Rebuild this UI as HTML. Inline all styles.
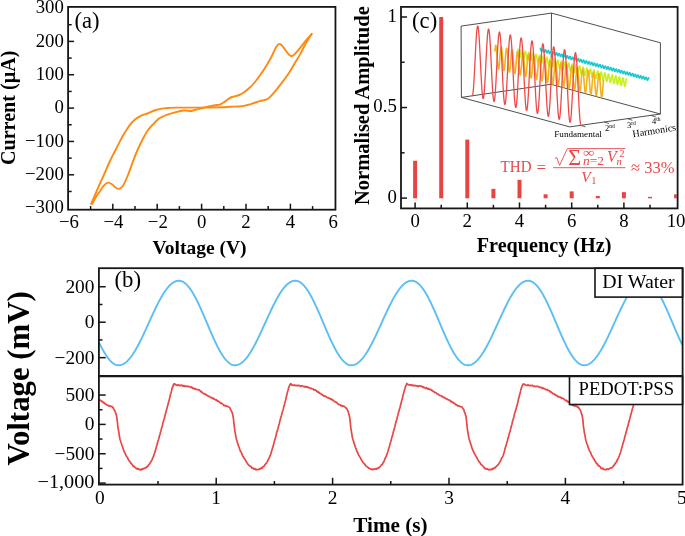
<!DOCTYPE html>
<html><head><meta charset="utf-8"><style>
html,body{margin:0;padding:0;background:#fff;}
body{width:685px;height:536px;overflow:hidden;}
svg{display:block;font-family:"Liberation Serif", serif;will-change:transform;}
</style></head><body>
<svg width="685" height="536" viewBox="0 0 685 536">
<g>
<path d="M92.30,203.80 C92.92,202.67 94.78,199.02 96.00,197.00 C97.22,194.98 98.27,193.65 99.60,191.70 C100.93,189.75 102.60,186.82 104.00,185.30 C105.40,183.78 106.67,182.77 108.00,182.60 C109.33,182.43 110.75,183.48 112.00,184.30 C113.25,185.12 114.42,186.73 115.50,187.50 C116.58,188.27 117.58,188.85 118.50,188.90 C119.42,188.95 120.12,188.55 121.00,187.80 C121.88,187.05 122.63,186.53 123.80,184.40 C124.97,182.27 126.38,179.05 128.00,175.00 C129.62,170.95 131.83,164.43 133.50,160.10 C135.17,155.77 136.38,152.63 138.00,149.00 C139.62,145.37 141.53,141.47 143.20,138.30 C144.87,135.13 146.35,132.32 148.00,130.00 C149.65,127.68 151.27,126.30 153.10,124.40 C154.93,122.50 157.18,120.00 159.00,118.60 C160.82,117.20 162.30,116.73 164.00,116.00 C165.70,115.27 167.20,114.83 169.20,114.20 C171.20,113.57 173.57,112.82 176.00,112.20 C178.43,111.58 181.88,110.75 183.80,110.50 C185.72,110.25 186.28,110.62 187.50,110.70 C188.72,110.78 189.68,111.18 191.10,111.00 C192.52,110.82 194.30,110.03 196.00,109.60 C197.70,109.17 199.63,108.80 201.30,108.40 C202.97,108.00 204.53,107.57 206.00,107.20 C207.47,106.83 208.60,106.52 210.10,106.20 C211.60,105.88 213.42,105.55 215.00,105.30 C216.58,105.05 218.43,105.00 219.60,104.70 C220.77,104.40 221.15,103.98 222.00,103.50 C222.85,103.02 223.70,102.52 224.70,101.80 C225.70,101.08 226.78,100.00 228.00,99.20 C229.22,98.40 230.12,97.70 232.00,97.00 C233.88,96.30 237.30,95.78 239.30,95.00 C241.30,94.22 242.28,93.50 244.00,92.30 C245.72,91.10 247.77,89.52 249.60,87.80 C251.43,86.08 253.30,84.05 255.00,82.00 C256.70,79.95 258.30,77.58 259.80,75.50 C261.30,73.42 262.63,71.57 264.00,69.50 C265.37,67.43 266.75,65.22 268.00,63.10 C269.25,60.98 270.47,58.85 271.50,56.80 C272.53,54.75 273.37,52.52 274.20,50.80 C275.03,49.08 275.75,47.63 276.50,46.50 C277.25,45.37 277.95,44.32 278.70,44.00 C279.45,43.68 280.03,43.80 281.00,44.60 C281.97,45.40 283.33,47.32 284.50,48.80 C285.67,50.28 286.98,52.32 288.00,53.50 C289.02,54.68 289.77,55.57 290.60,55.90 C291.43,56.23 291.97,56.18 293.00,55.50 C294.03,54.82 295.47,53.25 296.80,51.80 C298.13,50.35 299.63,48.50 301.00,46.80 C302.37,45.10 303.75,43.15 305.00,41.60 C306.25,40.05 307.40,38.77 308.50,37.50 C309.60,36.23 311.08,34.58 311.60,34.00" fill="none" stroke="#FF8A0F" stroke-width="1.9" stroke-linejoin="round" stroke-linecap="round" />
<path d="M311.60,34.00 C310.67,35.50 307.78,39.85 306.00,43.00 C304.22,46.15 302.73,49.60 300.90,52.90 C299.07,56.20 297.05,59.38 295.00,62.80 C292.95,66.22 290.77,70.10 288.60,73.40 C286.43,76.70 284.05,79.87 282.00,82.60 C279.95,85.33 277.97,87.77 276.30,89.80 C274.63,91.83 273.38,93.32 272.00,94.80 C270.62,96.28 269.33,97.80 268.00,98.70 C266.67,99.60 265.37,99.80 264.00,100.20 C262.63,100.60 261.87,100.50 259.80,101.10 C257.73,101.70 253.90,103.10 251.60,103.80 C249.30,104.50 247.72,104.88 246.00,105.30 C244.28,105.72 243.97,106.05 241.30,106.30 C238.63,106.55 233.50,106.65 230.00,106.80 C226.50,106.95 225.57,107.07 220.30,107.20 C215.03,107.33 205.70,107.53 198.40,107.60 C191.10,107.67 181.57,107.53 176.50,107.60 C171.43,107.67 170.43,107.83 168.00,108.00 C165.57,108.17 164.13,108.18 161.90,108.60 C159.67,109.02 157.03,109.68 154.60,110.50 C152.17,111.32 149.23,112.75 147.30,113.50 C145.37,114.25 144.22,114.53 143.00,115.00 C141.78,115.47 141.17,115.67 140.00,116.30 C138.83,116.93 137.42,117.68 136.00,118.80 C134.58,119.92 132.92,121.38 131.50,123.00 C130.08,124.62 128.92,126.42 127.50,128.50 C126.08,130.58 124.42,133.07 123.00,135.50 C121.58,137.93 120.50,140.18 119.00,143.10 C117.50,146.02 115.62,149.77 114.00,153.00 C112.38,156.23 110.88,159.08 109.30,162.50 C107.72,165.92 106.12,169.85 104.50,173.50 C102.88,177.15 101.18,180.82 99.60,184.40 C98.02,187.98 96.42,191.77 95.00,195.00 C93.58,198.23 91.75,202.33 91.10,203.80" fill="none" stroke="#FF8A0F" stroke-width="1.9" stroke-linejoin="round" stroke-linecap="round" />
</g>
<rect x="68.1" y="6.9" width="267.35" height="202.80" fill="none" stroke="#161616" stroke-width="1.8"/>
<text x="69.00" y="228.30" font-size="18.8" text-anchor="middle" font-weight="normal" font-style="normal" fill="#000" >−6</text>
<line x1="90.60" y1="209.70" x2="90.60" y2="206.10" stroke="#161616" stroke-width="1.5" />
<line x1="112.80" y1="209.70" x2="112.80" y2="203.70" stroke="#161616" stroke-width="1.5" />
<text x="113.40" y="228.30" font-size="18.8" text-anchor="middle" font-weight="normal" font-style="normal" fill="#000" >−4</text>
<line x1="135.00" y1="209.70" x2="135.00" y2="206.10" stroke="#161616" stroke-width="1.5" />
<line x1="157.20" y1="209.70" x2="157.20" y2="203.70" stroke="#161616" stroke-width="1.5" />
<text x="157.80" y="228.30" font-size="18.8" text-anchor="middle" font-weight="normal" font-style="normal" fill="#000" >−2</text>
<line x1="179.40" y1="209.70" x2="179.40" y2="206.10" stroke="#161616" stroke-width="1.5" />
<line x1="201.60" y1="209.70" x2="201.60" y2="203.70" stroke="#161616" stroke-width="1.5" />
<text x="201.60" y="228.30" font-size="18.8" text-anchor="middle" font-weight="normal" font-style="normal" fill="#000" >0</text>
<line x1="223.80" y1="209.70" x2="223.80" y2="206.10" stroke="#161616" stroke-width="1.5" />
<line x1="246.00" y1="209.70" x2="246.00" y2="203.70" stroke="#161616" stroke-width="1.5" />
<text x="246.00" y="228.30" font-size="18.8" text-anchor="middle" font-weight="normal" font-style="normal" fill="#000" >2</text>
<line x1="268.20" y1="209.70" x2="268.20" y2="206.10" stroke="#161616" stroke-width="1.5" />
<line x1="290.40" y1="209.70" x2="290.40" y2="203.70" stroke="#161616" stroke-width="1.5" />
<text x="290.40" y="228.30" font-size="18.8" text-anchor="middle" font-weight="normal" font-style="normal" fill="#000" >4</text>
<line x1="312.60" y1="209.70" x2="312.60" y2="206.10" stroke="#161616" stroke-width="1.5" />
<text x="333.30" y="228.30" font-size="18.8" text-anchor="middle" font-weight="normal" font-style="normal" fill="#000" >6</text>
<text x="63.80" y="213.35" font-size="18.8" text-anchor="end" font-weight="normal" font-style="normal" fill="#000" >−300</text>
<line x1="68.10" y1="191.47" x2="71.70" y2="191.47" stroke="#161616" stroke-width="1.5" />
<line x1="68.10" y1="174.80" x2="74.10" y2="174.80" stroke="#161616" stroke-width="1.5" />
<text x="63.80" y="180.00" font-size="18.8" text-anchor="end" font-weight="normal" font-style="normal" fill="#000" >−200</text>
<line x1="68.10" y1="158.12" x2="71.70" y2="158.12" stroke="#161616" stroke-width="1.5" />
<line x1="68.10" y1="141.45" x2="74.10" y2="141.45" stroke="#161616" stroke-width="1.5" />
<text x="63.80" y="146.65" font-size="18.8" text-anchor="end" font-weight="normal" font-style="normal" fill="#000" >−100</text>
<line x1="68.10" y1="124.77" x2="71.70" y2="124.77" stroke="#161616" stroke-width="1.5" />
<line x1="68.10" y1="108.10" x2="74.10" y2="108.10" stroke="#161616" stroke-width="1.5" />
<text x="63.80" y="113.30" font-size="18.8" text-anchor="end" font-weight="normal" font-style="normal" fill="#000" >0</text>
<line x1="68.10" y1="91.42" x2="71.70" y2="91.42" stroke="#161616" stroke-width="1.5" />
<line x1="68.10" y1="74.75" x2="74.10" y2="74.75" stroke="#161616" stroke-width="1.5" />
<text x="63.80" y="79.95" font-size="18.8" text-anchor="end" font-weight="normal" font-style="normal" fill="#000" >100</text>
<line x1="68.10" y1="58.07" x2="71.70" y2="58.07" stroke="#161616" stroke-width="1.5" />
<line x1="68.10" y1="41.40" x2="74.10" y2="41.40" stroke="#161616" stroke-width="1.5" />
<text x="63.80" y="46.60" font-size="18.8" text-anchor="end" font-weight="normal" font-style="normal" fill="#000" >200</text>
<line x1="68.10" y1="24.72" x2="71.70" y2="24.72" stroke="#161616" stroke-width="1.5" />
<text x="63.80" y="13.25" font-size="18.8" text-anchor="end" font-weight="normal" font-style="normal" fill="#000" >300</text>
<text x="74.40" y="27.90" font-size="22.6" text-anchor="start" font-weight="normal" font-style="normal" fill="#000" >(a)</text>
<text x="199.50" y="254.40" font-size="19.5" text-anchor="middle" font-weight="bold" font-style="normal" fill="#000" >Voltage (V)</text>
<text transform="translate(14.7,107.8) rotate(-90)" x="0" y="0" font-size="20.1" text-anchor="middle" font-weight="bold" fill="#000">Current (µA)</text>
<clipPath id="cc"><rect x="401.0" y="6.9" width="275.70000000000005" height="201.5"/></clipPath>
<g clip-path="url(#cc)">
<rect x="413.10" y="160.79" width="4" height="37.51" fill="#E94444"/>
<rect x="439.20" y="17.00" width="4" height="181.30" fill="#E94444"/>
<rect x="465.30" y="139.60" width="4" height="58.70" fill="#E94444"/>
<rect x="491.40" y="188.86" width="4" height="9.44" fill="#E94444"/>
<rect x="517.50" y="179.81" width="4" height="18.49" fill="#E94444"/>
<rect x="543.60" y="194.30" width="4" height="4.00" fill="#E94444"/>
<rect x="569.70" y="191.40" width="4" height="6.90" fill="#E94444"/>
<rect x="595.80" y="195.93" width="4" height="2.37" fill="#E94444"/>
<rect x="621.90" y="192.12" width="4" height="6.18" fill="#E94444"/>
<rect x="648.00" y="196.83" width="4" height="1.47" fill="#E94444"/>
<rect x="674.10" y="194.30" width="4" height="4.00" fill="#E94444"/>
</g>
<rect x="401.0" y="6.9" width="276.60" height="201.50" fill="none" stroke="#161616" stroke-width="1.8"/>
<line x1="415.10" y1="208.40" x2="415.10" y2="202.40" stroke="#161616" stroke-width="1.5" />
<text x="415.10" y="227.00" font-size="18.8" text-anchor="middle" font-weight="normal" font-style="normal" fill="#000" >0</text>
<line x1="441.20" y1="208.40" x2="441.20" y2="204.80" stroke="#161616" stroke-width="1.5" />
<line x1="467.30" y1="208.40" x2="467.30" y2="202.40" stroke="#161616" stroke-width="1.5" />
<text x="467.30" y="227.00" font-size="18.8" text-anchor="middle" font-weight="normal" font-style="normal" fill="#000" >2</text>
<line x1="493.40" y1="208.40" x2="493.40" y2="204.80" stroke="#161616" stroke-width="1.5" />
<line x1="519.50" y1="208.40" x2="519.50" y2="202.40" stroke="#161616" stroke-width="1.5" />
<text x="519.50" y="227.00" font-size="18.8" text-anchor="middle" font-weight="normal" font-style="normal" fill="#000" >4</text>
<line x1="545.60" y1="208.40" x2="545.60" y2="204.80" stroke="#161616" stroke-width="1.5" />
<line x1="571.70" y1="208.40" x2="571.70" y2="202.40" stroke="#161616" stroke-width="1.5" />
<text x="571.70" y="227.00" font-size="18.8" text-anchor="middle" font-weight="normal" font-style="normal" fill="#000" >6</text>
<line x1="597.80" y1="208.40" x2="597.80" y2="204.80" stroke="#161616" stroke-width="1.5" />
<line x1="623.90" y1="208.40" x2="623.90" y2="202.40" stroke="#161616" stroke-width="1.5" />
<text x="623.90" y="227.00" font-size="18.8" text-anchor="middle" font-weight="normal" font-style="normal" fill="#000" >8</text>
<line x1="650.00" y1="208.40" x2="650.00" y2="204.80" stroke="#161616" stroke-width="1.5" />
<text x="676.10" y="227.00" font-size="18.8" text-anchor="middle" font-weight="normal" font-style="normal" fill="#000" >10</text>
<line x1="401.00" y1="198.10" x2="407.00" y2="198.10" stroke="#161616" stroke-width="1.5" />
<text x="396.80" y="202.70" font-size="18.8" text-anchor="end" font-weight="normal" font-style="normal" fill="#000" >0</text>
<line x1="401.00" y1="152.82" x2="404.60" y2="152.82" stroke="#161616" stroke-width="1.5" />
<line x1="401.00" y1="107.55" x2="407.00" y2="107.55" stroke="#161616" stroke-width="1.5" />
<text x="396.80" y="112.15" font-size="18.8" text-anchor="end" font-weight="normal" font-style="normal" fill="#000" >0.5</text>
<line x1="401.00" y1="62.28" x2="404.60" y2="62.28" stroke="#161616" stroke-width="1.5" />
<line x1="401.00" y1="17.00" x2="407.00" y2="17.00" stroke="#161616" stroke-width="1.5" />
<text x="396.80" y="21.60" font-size="18.8" text-anchor="end" font-weight="normal" font-style="normal" fill="#000" >1</text>
<text x="412.10" y="28.30" font-size="22.6" text-anchor="start" font-weight="normal" font-style="normal" fill="#000" >(c)</text>
<text x="544.10" y="252.30" font-size="20.2" text-anchor="middle" font-weight="bold" font-style="normal" fill="#000" >Frequency (Hz)</text>
<text transform="translate(369.3,105.6) rotate(-90)" x="0" y="0" font-size="20.5" text-anchor="middle" font-weight="bold" fill="#000">Normalised Amplitude</text>
<line x1="461.10" y1="26.10" x2="551.50" y2="13.10" stroke="#3a3a3a" stroke-width="0.9" />
<line x1="551.50" y1="13.10" x2="660.40" y2="42.80" stroke="#3a3a3a" stroke-width="0.9" />
<line x1="461.10" y1="26.10" x2="461.40" y2="97.40" stroke="#3a3a3a" stroke-width="0.9" />
<line x1="551.50" y1="13.10" x2="551.00" y2="84.30" stroke="#3a3a3a" stroke-width="0.9" />
<line x1="660.40" y1="42.80" x2="660.40" y2="114.00" stroke="#3a3a3a" stroke-width="0.9" />
<line x1="461.40" y1="97.40" x2="551.00" y2="84.30" stroke="#3a3a3a" stroke-width="0.9" />
<line x1="551.00" y1="84.30" x2="660.40" y2="114.00" stroke="#3a3a3a" stroke-width="0.9" />
<line x1="461.40" y1="97.40" x2="569.70" y2="126.90" stroke="#3a3a3a" stroke-width="0.9" />
<line x1="569.70" y1="126.90" x2="660.40" y2="114.00" stroke="#3a3a3a" stroke-width="0.9" />
<line x1="580.80" y1="125.32" x2="585.60" y2="126.92" stroke="#3a3a3a" stroke-width="0.8" />
<line x1="604.20" y1="121.99" x2="609.00" y2="123.59" stroke="#3a3a3a" stroke-width="0.8" />
<line x1="627.60" y1="118.67" x2="632.40" y2="120.27" stroke="#3a3a3a" stroke-width="0.8" />
<line x1="651.00" y1="115.34" x2="655.80" y2="116.94" stroke="#3a3a3a" stroke-width="0.8" />
<path d="M540.20,48.31 L540.32,48.39 L540.44,48.58 L540.56,48.85 L540.68,49.19 L540.80,49.59 L540.92,49.99 L541.04,50.39 L541.17,50.75 L541.29,51.04 L541.41,51.25 L541.53,51.36 L541.65,51.37 L541.77,51.27 L541.89,51.09 L542.01,50.82 L542.13,50.51 L542.25,50.17 L542.37,49.83 L542.49,49.52 L542.61,49.28 L542.73,49.11 L542.85,49.04 L542.98,49.07 L543.10,49.21 L543.22,49.44 L543.34,49.75 L543.46,50.13 L543.58,50.53 L543.70,50.94 L543.82,51.32 L543.94,51.65 L544.06,51.90 L544.18,52.06 L544.30,52.12 L544.42,52.07 L544.54,51.93 L544.66,51.70 L544.79,51.41 L544.91,51.08 L545.03,50.74 L545.15,50.41 L545.27,50.13 L545.39,49.92 L545.51,49.80 L545.63,49.78 L545.75,49.87 L545.87,50.06 L545.99,50.33 L546.11,50.67 L546.23,51.06 L546.35,51.47 L546.47,51.87 L546.60,52.23 L546.72,52.52 L546.84,52.73 L546.96,52.84 L547.08,52.85 L547.20,52.75 L547.32,52.57 L547.44,52.30 L547.56,51.99 L547.68,51.65 L547.80,51.31 L547.92,51.00 L548.04,50.76 L548.16,50.59 L548.28,50.52 L548.41,50.55 L548.53,50.69 L548.65,50.92 L548.77,51.23 L548.89,51.60 L549.01,52.01 L549.13,52.41 L549.25,52.80 L549.37,53.12 L549.49,53.38 L549.61,53.54 L549.73,53.60 L549.85,53.55 L549.97,53.41 L550.09,53.18 L550.22,52.89 L550.34,52.56 L550.46,52.21 L550.58,51.89 L550.70,51.61 L550.82,51.40 L550.94,51.28 L551.06,51.26 L551.18,51.35 L551.30,51.53 L551.42,51.81 L551.54,52.15 L551.66,52.54 L551.78,52.95 L551.90,53.35 L552.03,53.71 L552.15,54.00 L552.27,54.21 L552.39,54.32 L552.51,54.33 L552.63,54.23 L552.75,54.04 L552.87,53.78 L552.99,53.47 L553.11,53.13 L553.23,52.79 L553.35,52.48 L553.47,52.24 L553.59,52.07 L553.71,52.00 L553.84,52.03 L553.96,52.17 L554.08,52.40 L554.20,52.71 L554.32,53.08 L554.44,53.49 L554.56,53.89 L554.68,54.27 L554.80,54.60 L554.92,54.86 L555.04,55.02 L555.16,55.08 L555.28,55.03 L555.40,54.89 L555.52,54.66 L555.65,54.37 L555.77,54.04 L555.89,53.69 L556.01,53.37 L556.13,53.09 L556.25,52.88 L556.37,52.76 L556.49,52.74 L556.61,52.83 L556.73,53.01 L556.85,53.29 L556.97,53.63 L557.09,54.02 L557.21,54.43 L557.33,54.83 L557.46,55.19 L557.58,55.48 L557.70,55.69 L557.82,55.80 L557.94,55.81 L558.06,55.71 L558.18,55.52 L558.30,55.26 L558.42,54.95 L558.54,54.60 L558.66,54.27 L558.78,53.96 L558.90,53.72 L559.02,53.55 L559.14,53.48 L559.27,53.51 L559.39,53.65 L559.51,53.88 L559.63,54.19 L559.75,54.56 L559.87,54.97 L559.99,55.37 L560.11,55.75 L560.23,56.08 L560.35,56.34 L560.47,56.50 L560.59,56.56 L560.71,56.51 L560.83,56.37 L560.95,56.14 L561.08,55.85 L561.20,55.52 L561.32,55.17 L561.44,54.85 L561.56,54.57 L561.68,54.36 L561.80,54.24 L561.92,54.22 L562.04,54.31 L562.16,54.49 L562.28,54.77 L562.40,55.11 L562.52,55.50 L562.64,55.91 L562.76,56.31 L562.89,56.67 L563.01,56.96 L563.13,57.17 L563.25,57.28 L563.37,57.29 L563.49,57.19 L563.61,57.00 L563.73,56.74 L563.85,56.42 L563.97,56.08 L564.09,55.75 L564.21,55.44 L564.33,55.19 L564.45,55.03 L564.57,54.96 L564.70,54.99 L564.82,55.13 L564.94,55.36 L565.06,55.67 L565.18,56.04 L565.30,56.44 L565.42,56.85 L565.54,57.23 L565.66,57.56 L565.78,57.82 L565.90,57.98 L566.02,58.04 L566.14,57.99 L566.26,57.85 L566.38,57.62 L566.51,57.33 L566.63,56.99 L566.75,56.65 L566.87,56.33 L566.99,56.05 L567.11,55.84 L567.23,55.72 L567.35,55.70 L567.47,55.79 L567.59,55.97 L567.71,56.25 L567.83,56.59 L567.95,56.98 L568.07,57.39 L568.19,57.79 L568.32,58.14 L568.44,58.44 L568.56,58.65 L568.68,58.76 L568.80,58.77 L568.92,58.67 L569.04,58.48 L569.16,58.22 L569.28,57.90 L569.40,57.56 L569.52,57.23 L569.64,56.92 L569.76,56.67 L569.88,56.51 L570.00,56.44 L570.13,56.47 L570.25,56.61 L570.37,56.84 L570.49,57.15 L570.61,57.52 L570.73,57.92 L570.85,58.33 L570.97,58.71 L571.09,59.04 L571.21,59.29 L571.33,59.46 L571.45,59.52 L571.57,59.47 L571.69,59.33 L571.81,59.10 L571.94,58.81 L572.06,58.47 L572.18,58.13 L572.30,57.81 L572.42,57.53 L572.54,57.32 L572.66,57.20 L572.78,57.18 L572.90,57.27 L573.02,57.45 L573.14,57.73 L573.26,58.07 L573.38,58.46 L573.50,58.87 L573.62,59.27 L573.75,59.62 L573.87,59.92 L573.99,60.13 L574.11,60.24 L574.23,60.24 L574.35,60.15 L574.47,59.96 L574.59,59.70 L574.71,59.38 L574.83,59.04 L574.95,58.70 L575.07,58.40 L575.19,58.15 L575.31,57.99 L575.43,57.92 L575.56,57.95 L575.68,58.09 L575.80,58.32 L575.92,58.63 L576.04,59.00 L576.16,59.40 L576.28,59.81 L576.40,60.19 L576.52,60.52 L576.64,60.77 L576.76,60.94 L576.88,60.99 L577.00,60.95 L577.12,60.81 L577.24,60.58 L577.37,60.28 L577.49,59.95 L577.61,59.61 L577.73,59.29 L577.85,59.01 L577.97,58.80 L578.09,58.68 L578.21,58.66 L578.33,58.74 L578.45,58.93 L578.57,59.20 L578.69,59.55 L578.81,59.94 L578.93,60.35 L579.05,60.74 L579.18,61.10 L579.30,61.40 L579.42,61.61 L579.54,61.72 L579.66,61.72 L579.78,61.63 L579.90,61.44 L580.02,61.18 L580.14,60.86 L580.26,60.52 L580.38,60.18 L580.50,59.88 L580.62,59.63 L580.74,59.47 L580.86,59.40 L580.99,59.43 L581.11,59.56 L581.23,59.80 L581.35,60.11 L581.47,60.48 L581.59,60.88 L581.71,61.29 L581.83,61.67 L581.95,62.00 L582.07,62.25 L582.19,62.41 L582.31,62.47 L582.43,62.43 L582.55,62.28 L582.67,62.06 L582.80,61.76 L582.92,61.43 L583.04,61.09 L583.16,60.76 L583.28,60.49 L583.40,60.28 L583.52,60.16 L583.64,60.14 L583.76,60.22 L583.88,60.41 L584.00,60.68 L584.12,61.03 L584.24,61.42 L584.36,61.83 L584.48,62.22 L584.61,62.58 L584.73,62.88 L584.85,63.09 L584.97,63.20 L585.09,63.20 L585.21,63.11 L585.33,62.92 L585.45,62.66 L585.57,62.34 L585.69,62.00 L585.81,61.66 L585.93,61.36 L586.05,61.11 L586.17,60.95 L586.29,60.87 L586.42,60.91 L586.54,61.04 L586.66,61.28 L586.78,61.59 L586.90,61.96 L587.02,62.36 L587.14,62.77 L587.26,63.15 L587.38,63.48 L587.50,63.73 L587.62,63.89 L587.74,63.95 L587.86,63.91 L587.98,63.76 L588.10,63.54 L588.23,63.24 L588.35,62.91 L588.47,62.57 L588.59,62.24 L588.71,61.97 L588.83,61.76 L588.95,61.64 L589.07,61.62 L589.19,61.70 L589.31,61.89 L589.43,62.16 L589.55,62.51 L589.67,62.90 L589.79,63.31 L589.91,63.70 L590.04,64.06 L590.16,64.36 L590.28,64.56 L590.40,64.68 L590.52,64.68 L590.64,64.59 L590.76,64.40 L590.88,64.14 L591.00,63.82 L591.12,63.48 L591.24,63.14 L591.36,62.84 L591.48,62.59 L591.60,62.42 L591.72,62.35 L591.85,62.39 L591.97,62.52 L592.09,62.75 L592.21,63.07 L592.33,63.44 L592.45,63.84 L592.57,64.25 L592.69,64.63 L592.81,64.96 L592.93,65.21 L593.05,65.37 L593.17,65.43 L593.29,65.39 L593.41,65.24 L593.53,65.01 L593.66,64.72 L593.78,64.39 L593.90,64.05 L594.02,63.72 L594.14,63.44 L594.26,63.24 L594.38,63.12 L594.50,63.10 L594.62,63.18 L594.74,63.37 L594.86,63.64 L594.98,63.99 L595.10,64.38 L595.22,64.78 L595.34,65.18 L595.47,65.54 L595.59,65.83 L595.71,66.04 L595.83,66.15 L595.95,66.16 L596.07,66.07 L596.19,65.88 L596.31,65.61 L596.43,65.30 L596.55,64.96 L596.67,64.62 L596.79,64.32 L596.91,64.07 L597.03,63.90 L597.15,63.83 L597.28,63.87 L597.40,64.00 L597.52,64.23 L597.64,64.55 L597.76,64.92 L597.88,65.32 L598.00,65.73 L598.12,66.11 L598.24,66.44 L598.36,66.69 L598.48,66.85 L598.60,66.91 L598.72,66.87 L598.84,66.72 L598.96,66.49 L599.09,66.20 L599.21,65.87 L599.33,65.53 L599.45,65.20 L599.57,64.92 L599.69,64.72 L599.81,64.60 L599.93,64.58 L600.05,64.66 L600.17,64.85 L600.29,65.12 L600.41,65.47 L600.53,65.86 L600.65,66.26 L600.77,66.66 L600.90,67.02 L601.02,67.31 L601.14,67.52 L601.26,67.63 L601.38,67.64 L601.50,67.54 L601.62,67.36 L601.74,67.09 L601.86,66.78 L601.98,66.44 L602.10,66.10 L602.22,65.80 L602.34,65.55 L602.46,65.38 L602.58,65.31 L602.71,65.34 L602.83,65.48 L602.95,65.71 L603.07,66.03 L603.19,66.40 L603.31,66.80 L603.43,67.21 L603.55,67.59 L603.67,67.92 L603.79,68.17 L603.91,68.33 L604.03,68.39 L604.15,68.34 L604.27,68.20 L604.39,67.97 L604.52,67.68 L604.64,67.35 L604.76,67.01 L604.88,66.68 L605.00,66.40 L605.12,66.19 L605.24,66.07 L605.36,66.05 L605.48,66.14 L605.60,66.33 L605.72,66.60 L605.84,66.94 L605.96,67.33 L606.08,67.74 L606.20,68.14 L606.33,68.50 L606.45,68.79 L606.57,69.00 L606.69,69.11 L606.81,69.12 L606.93,69.02 L607.05,68.84 L607.17,68.57 L607.29,68.26 L607.41,67.92 L607.53,67.58 L607.65,67.27 L607.77,67.03 L607.89,66.86 L608.01,66.79 L608.14,66.82 L608.26,66.96 L608.38,67.19 L608.50,67.50 L608.62,67.88 L608.74,68.28 L608.86,68.68 L608.98,69.07 L609.10,69.39 L609.22,69.65 L609.34,69.81 L609.46,69.87 L609.58,69.82 L609.70,69.68 L609.82,69.45 L609.95,69.16 L610.07,68.83 L610.19,68.49 L610.31,68.16 L610.43,67.88 L610.55,67.67 L610.67,67.55 L610.79,67.53 L610.91,67.62 L611.03,67.80 L611.15,68.08 L611.27,68.42 L611.39,68.81 L611.51,69.22 L611.63,69.62 L611.76,69.98 L611.88,70.27 L612.00,70.48 L612.12,70.59 L612.24,70.60 L612.36,70.50 L612.48,70.32 L612.60,70.05 L612.72,69.74 L612.84,69.40 L612.96,69.06 L613.08,68.75 L613.20,68.51 L613.32,68.34 L613.44,68.27 L613.57,68.30 L613.69,68.44 L613.81,68.67 L613.93,68.98 L614.05,69.35 L614.17,69.76 L614.29,70.16 L614.41,70.55 L614.53,70.87 L614.65,71.13 L614.77,71.29 L614.89,71.35 L615.01,71.30 L615.13,71.16 L615.25,70.93 L615.38,70.64 L615.50,70.31 L615.62,69.96 L615.74,69.64 L615.86,69.36 L615.98,69.15 L616.10,69.03 L616.22,69.01 L616.34,69.10 L616.46,69.28 L616.58,69.56 L616.70,69.90 L616.82,70.29 L616.94,70.70 L617.06,71.10 L617.19,71.46 L617.31,71.75 L617.43,71.96 L617.55,72.07 L617.67,72.08 L617.79,71.98 L617.91,71.79 L618.03,71.53 L618.15,71.22 L618.27,70.87 L618.39,70.54 L618.51,70.23 L618.63,69.99 L618.75,69.82 L618.87,69.75 L619.00,69.78 L619.12,69.92 L619.24,70.15 L619.36,70.46 L619.48,70.83 L619.60,71.24 L619.72,71.64 L619.84,72.02 L619.96,72.35 L620.08,72.61 L620.20,72.77 L620.32,72.83 L620.44,72.78 L620.56,72.64 L620.68,72.41 L620.81,72.12 L620.93,71.79 L621.05,71.44 L621.17,71.12 L621.29,70.84 L621.41,70.63 L621.53,70.51 L621.65,70.49 L621.77,70.58 L621.89,70.76 L622.01,71.04 L622.13,71.38 L622.25,71.77 L622.37,72.18 L622.49,72.58 L622.62,72.94 L622.74,73.23 L622.86,73.44 L622.98,73.55 L623.10,73.56 L623.22,73.46 L623.34,73.27 L623.46,73.01 L623.58,72.69 L623.70,72.35 L623.82,72.02 L623.94,71.71 L624.06,71.47 L624.18,71.30 L624.30,71.23 L624.43,71.26 L624.55,71.40 L624.67,71.63 L624.79,71.94 L624.91,72.31 L625.03,72.72 L625.15,73.12 L625.27,73.50 L625.39,73.83 L625.51,74.09 L625.63,74.25 L625.75,74.31 L625.87,74.26 L625.99,74.12 L626.11,73.89 L626.24,73.60 L626.36,73.27 L626.48,72.92 L626.60,72.60 L626.72,72.32 L626.84,72.11 L626.96,71.99 L627.08,71.97 L627.20,72.06 L627.32,72.24 L627.44,72.52 L627.56,72.86 L627.68,73.25 L627.80,73.66 L627.92,74.06 L628.05,74.42 L628.17,74.71 L628.29,74.92 L628.41,75.03 L628.53,75.04 L628.65,74.94 L628.77,74.75 L628.89,74.49 L629.01,74.17 L629.13,73.83 L629.25,73.50 L629.37,73.19 L629.49,72.94 L629.61,72.78 L629.73,72.71 L629.86,72.74 L629.98,72.88 L630.10,73.11 L630.22,73.42 L630.34,73.79 L630.46,74.19 L630.58,74.60 L630.70,74.98 L630.82,75.31 L630.94,75.57 L631.06,75.73 L631.18,75.79 L631.30,75.74 L631.42,75.60 L631.54,75.37 L631.67,75.08 L631.79,74.74 L631.91,74.40 L632.03,74.08 L632.15,73.80 L632.27,73.59 L632.39,73.47 L632.51,73.45 L632.63,73.54 L632.75,73.72 L632.87,74.00 L632.99,74.34 L633.11,74.73 L633.23,75.14 L633.35,75.54 L633.48,75.89 L633.60,76.19 L633.72,76.40 L633.84,76.51 L633.96,76.52 L634.08,76.42 L634.20,76.23 L634.32,75.97 L634.44,75.65 L634.56,75.31 L634.68,74.97 L634.80,74.67 L634.92,74.42 L635.04,74.26 L635.16,74.19 L635.29,74.22 L635.41,74.36 L635.53,74.59 L635.65,74.90 L635.77,75.27 L635.89,75.67 L636.01,76.08 L636.13,76.46 L636.25,76.79 L636.37,77.04 L636.49,77.21 L636.61,77.26 L636.73,77.22 L636.85,77.08 L636.97,76.85 L637.10,76.56 L637.22,76.22 L637.34,75.88 L637.46,75.56 L637.58,75.28 L637.70,75.07 L637.82,74.95 L637.94,74.93 L638.06,75.01 L638.18,75.20 L638.30,75.47 L638.42,75.82 L638.54,76.21 L638.66,76.62 L638.78,77.02 L638.91,77.37 L639.03,77.67 L639.15,77.88 L639.27,77.99 L639.39,77.99 L639.51,77.90 L639.63,77.71 L639.75,77.45 L639.87,77.13 L639.99,76.79 L640.11,76.45 L640.23,76.15 L640.35,75.90 L640.47,75.74 L640.59,75.67 L640.72,75.70 L640.84,75.84 L640.96,76.07 L641.08,76.38 L641.20,76.75 L641.32,77.15 L641.44,77.56 L641.56,77.94 L641.68,78.27 L641.80,78.52 L641.92,78.68 L642.04,78.74 L642.16,78.70 L642.28,78.56 L642.40,78.33 L642.53,78.03 L642.65,77.70 L642.77,77.36 L642.89,77.04 L643.01,76.76 L643.13,76.55 L643.25,76.43 L643.37,76.41 L643.49,76.49 L643.61,76.68 L643.73,76.95 L643.85,77.30 L643.97,77.69 L644.09,78.10 L644.21,78.49 L644.34,78.85 L644.46,79.15 L644.58,79.36 L644.70,79.47 L644.82,79.47 L644.94,79.38 L645.06,79.19 L645.18,78.93 L645.30,78.61 L645.42,78.27 L645.54,77.93 L645.66,77.63 L645.78,77.38 L645.90,77.22 L646.02,77.14 L646.15,77.18 L646.27,77.31 L646.39,77.55 L646.51,77.86 L646.63,78.23 L646.75,78.63 L646.87,79.04 L646.99,79.42 L647.11,79.75 L647.23,80.00 L647.35,80.16 L647.47,80.22 L647.59,80.18 L647.71,80.03 L647.83,79.81 L647.96,79.51 L648.08,79.18 L648.20,78.84 L648.32,78.51 L648.44,78.24 L648.56,78.03 L648.68,77.91 L648.80,77.89" fill="none" stroke="#1CC8D2" stroke-width="1.6" stroke-linejoin="round" stroke-linecap="round" />
<path d="M518.00,49.25 L518.12,49.38 L518.24,49.67 L518.36,50.12 L518.48,50.71 L518.60,51.42 L518.72,52.22 L518.84,53.07 L518.97,53.94 L519.09,54.79 L519.21,55.58 L519.33,56.29 L519.45,56.89 L519.57,57.34 L519.69,57.63 L519.81,57.75 L519.93,57.69 L520.05,57.47 L520.17,57.08 L520.29,56.56 L520.41,55.91 L520.53,55.18 L520.65,54.40 L520.78,53.59 L520.90,52.81 L521.02,52.08 L521.14,51.43 L521.26,50.91 L521.38,50.52 L521.50,50.30 L521.62,50.24 L521.74,50.36 L521.86,50.65 L521.98,51.10 L522.10,51.70 L522.22,52.41 L522.34,53.20 L522.46,54.05 L522.59,54.92 L522.71,55.77 L522.83,56.57 L522.95,57.28 L523.07,57.87 L523.19,58.32 L523.31,58.61 L523.43,58.73 L523.55,58.68 L523.67,58.45 L523.79,58.07 L523.91,57.54 L524.03,56.90 L524.15,56.17 L524.27,55.38 L524.40,54.58 L524.52,53.79 L524.64,53.06 L524.76,52.42 L524.88,51.89 L525.00,51.51 L525.12,51.28 L525.24,51.23 L525.36,51.35 L525.48,51.64 L525.60,52.09 L525.72,52.68 L525.84,53.39 L525.96,54.19 L526.08,55.04 L526.21,55.91 L526.33,56.76 L526.45,57.56 L526.57,58.27 L526.69,58.86 L526.81,59.31 L526.93,59.60 L527.05,59.72 L527.17,59.67 L527.29,59.44 L527.41,59.05 L527.53,58.53 L527.65,57.88 L527.77,57.15 L527.89,56.37 L528.02,55.56 L528.14,54.78 L528.26,54.05 L528.38,53.41 L528.50,52.88 L528.62,52.49 L528.74,52.27 L528.86,52.21 L528.98,52.33 L529.10,52.62 L529.22,53.08 L529.34,53.67 L529.46,54.38 L529.58,55.17 L529.70,56.03 L529.83,56.89 L529.95,57.74 L530.07,58.54 L530.19,59.25 L530.31,59.84 L530.43,60.29 L530.55,60.59 L530.67,60.71 L530.79,60.65 L530.91,60.43 L531.03,60.04 L531.15,59.51 L531.27,58.87 L531.39,58.14 L531.51,57.35 L531.64,56.55 L531.76,55.77 L531.88,55.03 L532.00,54.39 L532.12,53.86 L532.24,53.48 L532.36,53.25 L532.48,53.20 L532.60,53.32 L532.72,53.61 L532.84,54.06 L532.96,54.65 L533.08,55.36 L533.20,56.16 L533.32,57.01 L533.45,57.88 L533.57,58.73 L533.69,59.53 L533.81,60.24 L533.93,60.83 L534.05,61.28 L534.17,61.57 L534.29,61.69 L534.41,61.64 L534.53,61.41 L534.65,61.03 L534.77,60.50 L534.89,59.86 L535.01,59.13 L535.13,58.34 L535.26,57.54 L535.38,56.75 L535.50,56.02 L535.62,55.38 L535.74,54.85 L535.86,54.47 L535.98,54.24 L536.10,54.19 L536.22,54.31 L536.34,54.60 L536.46,55.05 L536.58,55.64 L536.70,56.35 L536.82,57.15 L536.94,58.00 L537.07,58.87 L537.19,59.72 L537.31,60.51 L537.43,61.22 L537.55,61.82 L537.67,62.27 L537.79,62.56 L537.91,62.68 L538.03,62.62 L538.15,62.40 L538.27,62.01 L538.39,61.49 L538.51,60.84 L538.63,60.11 L538.75,59.33 L538.88,58.52 L539.00,57.74 L539.12,57.01 L539.24,56.36 L539.36,55.84 L539.48,55.45 L539.60,55.23 L539.72,55.17 L539.84,55.29 L539.96,55.58 L540.08,56.03 L540.20,56.63 L540.32,57.34 L540.44,58.13 L540.56,58.98 L540.69,59.85 L540.81,60.70 L540.93,61.50 L541.05,62.21 L541.17,62.80 L541.29,63.25 L541.41,63.54 L541.53,63.66 L541.65,63.61 L541.77,63.38 L541.89,63.00 L542.01,62.47 L542.13,61.83 L542.25,61.10 L542.37,60.31 L542.50,59.51 L542.62,58.72 L542.74,57.99 L542.86,57.35 L542.98,56.82 L543.10,56.44 L543.22,56.21 L543.34,56.16 L543.46,56.28 L543.58,56.57 L543.70,57.02 L543.82,57.61 L543.94,58.32 L544.06,59.12 L544.18,59.97 L544.31,60.84 L544.43,61.69 L544.55,62.49 L544.67,63.20 L544.79,63.79 L544.91,64.24 L545.03,64.53 L545.15,64.65 L545.27,64.60 L545.39,64.37 L545.51,63.99 L545.63,63.46 L545.75,62.81 L545.87,62.08 L545.99,61.30 L546.12,60.50 L546.24,59.71 L546.36,58.98 L546.48,58.34 L546.60,57.81 L546.72,57.42 L546.84,57.20 L546.96,57.14 L547.08,57.26 L547.20,57.56 L547.32,58.01 L547.44,58.60 L547.56,59.31 L547.68,60.10 L547.80,60.96 L547.93,61.82 L548.05,62.68 L548.17,63.47 L548.29,64.18 L548.41,64.77 L548.53,65.23 L548.65,65.52 L548.77,65.64 L548.89,65.58 L549.01,65.36 L549.13,64.97 L549.25,64.44 L549.37,63.80 L549.49,63.07 L549.61,62.28 L549.74,61.48 L549.86,60.70 L549.98,59.97 L550.10,59.32 L550.22,58.79 L550.34,58.41 L550.46,58.18 L550.58,58.13 L550.70,58.25 L550.82,58.54 L550.94,58.99 L551.06,59.58 L551.18,60.29 L551.30,61.09 L551.42,61.94 L551.55,62.81 L551.67,63.66 L551.79,64.46 L551.91,65.17 L552.03,65.76 L552.15,66.21 L552.27,66.50 L552.39,66.62 L552.51,66.57 L552.63,66.34 L552.75,65.96 L552.87,65.43 L552.99,64.79 L553.11,64.06 L553.23,63.27 L553.36,62.47 L553.48,61.68 L553.60,60.95 L553.72,60.31 L553.84,59.78 L553.96,59.40 L554.08,59.17 L554.20,59.12 L554.32,59.24 L554.44,59.53 L554.56,59.98 L554.68,60.57 L554.80,61.28 L554.92,62.08 L555.04,62.93 L555.17,63.80 L555.29,64.65 L555.41,65.44 L555.53,66.15 L555.65,66.75 L555.77,67.20 L555.89,67.49 L556.01,67.61 L556.13,67.55 L556.25,67.33 L556.37,66.94 L556.49,66.42 L556.61,65.77 L556.73,65.04 L556.85,64.26 L556.98,63.45 L557.10,62.67 L557.22,61.94 L557.34,61.29 L557.46,60.77 L557.58,60.38 L557.70,60.16 L557.82,60.10 L557.94,60.22 L558.06,60.51 L558.18,60.96 L558.30,61.56 L558.42,62.27 L558.54,63.06 L558.66,63.91 L558.79,64.78 L558.91,65.63 L559.03,66.43 L559.15,67.14 L559.27,67.73 L559.39,68.18 L559.51,68.47 L559.63,68.59 L559.75,68.54 L559.87,68.31 L559.99,67.93 L560.11,67.40 L560.23,66.76 L560.35,66.03 L560.47,65.24 L560.60,64.44 L560.72,63.65 L560.84,62.92 L560.96,62.28 L561.08,61.75 L561.20,61.37 L561.32,61.14 L561.44,61.09 L561.56,61.21 L561.68,61.50 L561.80,61.95 L561.92,62.54 L562.04,63.25 L562.16,64.05 L562.28,64.90 L562.41,65.77 L562.53,66.62 L562.65,67.42 L562.77,68.13 L562.89,68.72 L563.01,69.17 L563.13,69.46 L563.25,69.58 L563.37,69.53 L563.49,69.30 L563.61,68.92 L563.73,68.39 L563.85,67.75 L563.97,67.01 L564.09,66.23 L564.22,65.43 L564.34,64.64 L564.46,63.91 L564.58,63.27 L564.70,62.74 L564.82,62.35 L564.94,62.13 L565.06,62.07 L565.18,62.19 L565.30,62.49 L565.42,62.94 L565.54,63.53 L565.66,64.24 L565.78,65.04 L565.90,65.89 L566.03,66.76 L566.15,67.61 L566.27,68.40 L566.39,69.11 L566.51,69.70 L566.63,70.16 L566.75,70.45 L566.87,70.57 L566.99,70.51 L567.11,70.29 L567.23,69.90 L567.35,69.38 L567.47,68.73 L567.59,68.00 L567.71,67.22 L567.84,66.41 L567.96,65.63 L568.08,64.90 L568.20,64.25 L568.32,63.73 L568.44,63.34 L568.56,63.11 L568.68,63.06 L568.80,63.18 L568.92,63.47 L569.04,63.92 L569.16,64.52 L569.28,65.22 L569.40,66.02 L569.52,66.87 L569.65,67.74 L569.77,68.59 L569.89,69.39 L570.01,70.10 L570.13,70.69 L570.25,71.14 L570.37,71.43 L570.49,71.55 L570.61,71.50 L570.73,71.27 L570.85,70.89 L570.97,70.36 L571.09,69.72 L571.21,68.99 L571.33,68.20 L571.46,67.40 L571.58,66.61 L571.70,65.88 L571.82,65.24 L571.94,64.71 L572.06,64.33 L572.18,64.10 L572.30,64.05 L572.42,64.17 L572.54,64.46 L572.66,64.91 L572.78,65.50 L572.90,66.21 L573.02,67.01 L573.14,67.86 L573.27,68.73 L573.39,69.58 L573.51,70.37 L573.63,71.08 L573.75,71.68 L573.87,72.13 L573.99,72.42 L574.11,72.54 L574.23,72.48 L574.35,72.26 L574.47,71.87 L574.59,71.35 L574.71,70.70 L574.83,69.97 L574.95,69.19 L575.08,68.38 L575.20,67.60 L575.32,66.87 L575.44,66.22 L575.56,65.70 L575.68,65.31 L575.80,65.09 L575.92,65.03 L576.04,65.15 L576.16,65.44 L576.28,65.89 L576.40,66.49 L576.52,67.20 L576.64,67.99 L576.76,68.84 L576.89,69.71 L577.01,70.56 L577.13,71.36 L577.25,72.07 L577.37,72.66 L577.49,73.11 L577.61,73.41 L577.73,73.53 L577.85,73.47 L577.97,73.25 L578.09,72.86 L578.21,72.33 L578.33,71.69 L578.45,70.96 L578.57,70.17 L578.70,69.37 L578.82,68.59 L578.94,67.85 L579.06,67.21 L579.18,66.68 L579.30,66.30 L579.42,66.07 L579.54,66.02 L579.66,66.14 L579.78,66.43 L579.90,66.88 L580.02,67.47 L580.14,68.18 L580.26,68.98 L580.38,69.83 L580.51,70.70 L580.63,71.55 L580.75,72.35 L580.87,73.06 L580.99,73.65 L581.11,74.10 L581.23,74.39 L581.35,74.51 L581.47,74.46 L581.59,74.23 L581.71,73.85 L581.83,73.32 L581.95,72.68 L582.07,71.94 L582.19,71.16 L582.32,70.36 L582.44,69.57 L582.56,68.84 L582.68,68.20 L582.80,67.67 L582.92,67.28 L583.04,67.06 L583.16,67.00 L583.28,67.12 L583.40,67.42 L583.52,67.87 L583.64,68.46 L583.76,69.17 L583.88,69.97 L584.00,70.82 L584.13,71.69 L584.25,72.54 L584.37,73.33 L584.49,74.04 L584.61,74.63 L584.73,75.09 L584.85,75.38 L584.97,75.50 L585.09,75.44 L585.21,75.22 L585.33,74.83 L585.45,74.31 L585.57,73.66 L585.69,72.93 L585.81,72.15 L585.94,71.34 L586.06,70.56 L586.18,69.83 L586.30,69.18 L586.42,68.66 L586.54,68.27 L586.66,68.05 L586.78,67.99 L586.90,68.11 L587.02,68.40 L587.14,68.85 L587.26,69.45 L587.38,70.15 L587.50,70.95 L587.62,71.80 L587.75,72.67 L587.87,73.52 L587.99,74.32 L588.11,75.03 L588.23,75.62 L588.35,76.07 L588.47,76.36 L588.59,76.48 L588.71,76.43 L588.83,76.20 L588.95,75.82 L589.07,75.29 L589.19,74.65 L589.31,73.92 L589.43,73.13 L589.56,72.33 L589.68,71.54 L589.80,70.81 L589.92,70.17 L590.04,69.64 L590.16,69.26 L590.28,69.03 L590.40,68.98 L590.52,69.10 L590.64,69.39 L590.76,69.84 L590.88,70.43 L591.00,71.14 L591.12,71.94 L591.24,72.79 L591.37,73.66 L591.49,74.51 L591.61,75.31 L591.73,76.01 L591.85,76.61 L591.97,77.06 L592.09,77.35 L592.21,77.47 L592.33,77.42 L592.45,77.19 L592.57,76.80 L592.69,76.28 L592.81,75.63 L592.93,74.90 L593.05,74.12 L593.18,73.31 L593.30,72.53 L593.42,71.80 L593.54,71.15 L593.66,70.63 L593.78,70.24 L593.90,70.02 L594.02,69.96 L594.14,70.08 L594.26,70.37 L594.38,70.83 L594.50,71.42 L594.62,72.13 L594.74,72.92 L594.86,73.77 L594.99,74.64 L595.11,75.49 L595.23,76.29 L595.35,77.00 L595.47,77.59 L595.59,78.04 L595.71,78.34 L595.83,78.46 L595.95,78.40 L596.07,78.18 L596.19,77.79 L596.31,77.26 L596.43,76.62 L596.55,75.89 L596.67,75.10 L596.80,74.30 L596.92,73.52 L597.04,72.78 L597.16,72.14 L597.28,71.61 L597.40,71.23 L597.52,71.00 L597.64,70.95 L597.76,71.07 L597.88,71.36 L598.00,71.81 L598.12,72.40 L598.24,73.11 L598.36,73.91 L598.48,74.76 L598.61,75.63 L598.73,76.48 L598.85,77.28 L598.97,77.99 L599.09,78.58 L599.21,79.03 L599.33,79.32 L599.45,79.44 L599.57,79.39 L599.69,79.16 L599.81,78.78 L599.93,78.25 L600.05,77.61 L600.17,76.88 L600.29,76.09 L600.42,75.29 L600.54,74.50 L600.66,73.77 L600.78,73.13 L600.90,72.60 L601.02,72.21 L601.14,71.99 L601.26,71.93 L601.38,72.06 L601.50,72.35 L601.62,72.80 L601.74,73.39 L601.86,74.10 L601.98,74.90 L602.10,75.75 L602.23,76.62 L602.35,77.47 L602.47,78.26 L602.59,78.97 L602.71,79.57 L602.83,80.02 L602.95,80.31 L603.07,80.43 L603.19,80.37 L603.31,80.15 L603.43,79.76 L603.55,79.24 L603.67,78.59 L603.79,77.86 L603.91,77.08 L604.04,76.27 L604.16,75.49 L604.28,74.76 L604.40,74.11 L604.52,73.59 L604.64,73.20 L604.76,72.98 L604.88,72.92 L605.00,73.04 L605.12,73.33 L605.24,73.78 L605.36,74.38 L605.48,75.09 L605.60,75.88 L605.72,76.73 L605.85,77.60 L605.97,78.45 L606.09,79.25 L606.21,79.96 L606.33,80.55 L606.45,81.00 L606.57,81.29 L606.69,81.41 L606.81,81.36 L606.93,81.13 L607.05,80.75 L607.17,80.22 L607.29,79.58 L607.41,78.85 L607.53,78.06 L607.66,77.26 L607.78,76.47 L607.90,75.74 L608.02,75.10 L608.14,74.57 L608.26,74.19 L608.38,73.96 L608.50,73.91 L608.62,74.03 L608.74,74.32 L608.86,74.77 L608.98,75.36 L609.10,76.07 L609.22,76.87 L609.34,77.72 L609.47,78.59 L609.59,79.44 L609.71,80.24 L609.83,80.95 L609.95,81.54 L610.07,81.99 L610.19,82.28 L610.31,82.40 L610.43,82.35 L610.55,82.12 L610.67,81.73 L610.79,81.21 L610.91,80.56 L611.03,79.83 L611.15,79.05 L611.28,78.24 L611.40,77.46 L611.52,76.73 L611.64,76.09 L611.76,75.56 L611.88,75.17 L612.00,74.95 L612.12,74.89 L612.24,75.01 L612.36,75.30 L612.48,75.76 L612.60,76.35 L612.72,77.06 L612.84,77.85 L612.96,78.71 L613.09,79.57 L613.21,80.43 L613.33,81.22 L613.45,81.93 L613.57,82.52 L613.69,82.97 L613.81,83.27 L613.93,83.39 L614.05,83.33 L614.17,83.11 L614.29,82.72 L614.41,82.19 L614.53,81.55 L614.65,80.82 L614.77,80.03 L614.90,79.23 L615.02,78.45 L615.14,77.71 L615.26,77.07 L615.38,76.54 L615.50,76.16 L615.62,75.93 L615.74,75.88 L615.86,76.00 L615.98,76.29 L616.10,76.74 L616.22,77.33 L616.34,78.04 L616.46,78.84 L616.58,79.69 L616.71,80.56 L616.83,81.41 L616.95,82.21 L617.07,82.92 L617.19,83.51 L617.31,83.96 L617.43,84.25 L617.55,84.37 L617.67,84.32 L617.79,84.09 L617.91,83.71 L618.03,83.18 L618.15,82.54 L618.27,81.81 L618.39,81.02 L618.52,80.22 L618.64,79.43 L618.76,78.70 L618.88,78.06 L619.00,77.53 L619.12,77.15 L619.24,76.92 L619.36,76.87 L619.48,76.99 L619.60,77.28 L619.72,77.73 L619.84,78.32 L619.96,79.03 L620.08,79.83 L620.20,80.68 L620.33,81.55 L620.45,82.40 L620.57,83.19 L620.69,83.90 L620.81,84.50 L620.93,84.95 L621.05,85.24 L621.17,85.36 L621.29,85.30 L621.41,85.08 L621.53,84.69 L621.65,84.17 L621.77,83.52 L621.89,82.79 L622.01,82.01 L622.14,81.20 L622.26,80.42 L622.38,79.69 L622.50,79.04 L622.62,78.52 L622.74,78.13 L622.86,77.91 L622.98,77.85 L623.10,77.97 L623.22,78.26 L623.34,78.71 L623.46,79.31 L623.58,80.02 L623.70,80.81 L623.82,81.66 L623.95,82.53 L624.07,83.38 L624.19,84.18 L624.31,84.89 L624.43,85.48 L624.55,85.93 L624.67,86.22 L624.79,86.34 L624.91,86.29 L625.03,86.06 L625.15,85.68 L625.27,85.15 L625.39,84.51 L625.51,83.78 L625.63,82.99 L625.76,82.19 L625.88,81.40 L626.00,80.67 L626.12,80.03 L626.24,79.50 L626.36,79.12 L626.48,78.89 L626.60,78.84" fill="none" stroke="#C8F01E" stroke-width="1.6" stroke-linejoin="round" stroke-linecap="round" />
<path d="M494.90,50.89 L495.02,49.59 L495.14,48.43 L495.26,47.42 L495.38,46.60 L495.50,45.98 L495.62,45.56 L495.74,45.37 L495.87,45.40 L495.99,45.65 L496.11,46.12 L496.23,46.80 L496.35,47.68 L496.47,48.74 L496.59,49.96 L496.71,51.32 L496.83,52.80 L496.95,54.35 L497.07,55.97 L497.19,57.60 L497.31,59.23 L497.43,60.82 L497.55,62.34 L497.68,63.77 L497.80,65.07 L497.92,66.22 L498.04,67.20 L498.16,67.99 L498.28,68.58 L498.40,68.95 L498.52,69.10 L498.64,69.02 L498.76,68.72 L498.88,68.21 L499.00,67.50 L499.12,66.59 L499.24,65.51 L499.36,64.28 L499.49,62.93 L499.61,61.48 L499.73,59.95 L499.85,58.39 L499.97,56.82 L500.09,55.27 L500.21,53.78 L500.33,52.37 L500.45,51.07 L500.57,49.90 L500.69,48.90 L500.81,48.08 L500.93,47.46 L501.05,47.04 L501.17,46.85 L501.30,46.88 L501.42,47.13 L501.54,47.60 L501.66,48.28 L501.78,49.16 L501.90,50.22 L502.02,51.44 L502.14,52.80 L502.26,54.28 L502.38,55.83 L502.50,57.45 L502.62,59.08 L502.74,60.71 L502.86,62.30 L502.98,63.82 L503.11,65.25 L503.23,66.55 L503.35,67.70 L503.47,68.68 L503.59,69.47 L503.71,70.05 L503.83,70.43 L503.95,70.57 L504.07,70.50 L504.19,70.20 L504.31,69.69 L504.43,68.98 L504.55,68.07 L504.67,66.99 L504.79,65.76 L504.92,64.41 L505.04,62.95 L505.16,61.43 L505.28,59.87 L505.40,58.30 L505.52,56.75 L505.64,55.26 L505.76,53.85 L505.88,52.55 L506.00,51.38 L506.12,50.38 L506.24,49.56 L506.36,48.94 L506.48,48.52 L506.60,48.33 L506.73,48.36 L506.85,48.61 L506.97,49.08 L507.09,49.76 L507.21,50.64 L507.33,51.70 L507.45,52.92 L507.57,54.28 L507.69,55.76 L507.81,57.31 L507.93,58.93 L508.05,60.56 L508.17,62.19 L508.29,63.78 L508.41,65.30 L508.54,66.73 L508.66,68.03 L508.78,69.18 L508.90,70.16 L509.02,70.95 L509.14,71.53 L509.26,71.90 L509.38,72.05 L509.50,71.98 L509.62,71.68 L509.74,71.17 L509.86,70.45 L509.98,69.55 L510.10,68.47 L510.22,67.24 L510.35,65.89 L510.47,64.43 L510.59,62.91 L510.71,61.35 L510.83,59.78 L510.95,58.23 L511.07,56.74 L511.19,55.32 L511.31,54.02 L511.43,52.86 L511.55,51.86 L511.67,51.04 L511.79,50.42 L511.91,50.00 L512.03,49.81 L512.16,49.84 L512.28,50.09 L512.40,50.56 L512.52,51.24 L512.64,52.12 L512.76,53.18 L512.88,54.40 L513.00,55.76 L513.12,57.23 L513.24,58.79 L513.36,60.40 L513.48,62.04 L513.60,63.67 L513.72,65.26 L513.84,66.78 L513.97,68.21 L514.09,69.51 L514.21,70.66 L514.33,71.64 L514.45,72.43 L514.57,73.01 L514.69,73.38 L514.81,73.53 L514.93,73.46 L515.05,73.16 L515.17,72.65 L515.29,71.93 L515.41,71.03 L515.53,69.95 L515.65,68.72 L515.78,67.37 L515.90,65.91 L516.02,64.39 L516.14,62.83 L516.26,61.26 L516.38,59.71 L516.50,58.21 L516.62,56.80 L516.74,55.50 L516.86,54.34 L516.98,53.34 L517.10,52.52 L517.22,51.89 L517.34,51.48 L517.46,51.29 L517.59,51.31 L517.71,51.57 L517.83,52.04 L517.95,52.72 L518.07,53.60 L518.19,54.66 L518.31,55.88 L518.43,57.24 L518.55,58.71 L518.67,60.27 L518.79,61.88 L518.91,63.52 L519.03,65.15 L519.15,66.74 L519.27,68.26 L519.40,69.69 L519.52,70.99 L519.64,72.14 L519.76,73.12 L519.88,73.91 L520.00,74.49 L520.12,74.86 L520.24,75.01 L520.36,74.94 L520.48,74.64 L520.60,74.13 L520.72,73.41 L520.84,72.51 L520.96,71.43 L521.08,70.20 L521.21,68.85 L521.33,67.39 L521.45,65.87 L521.57,64.31 L521.69,62.74 L521.81,61.19 L521.93,59.69 L522.05,58.28 L522.17,56.98 L522.29,55.82 L522.41,54.82 L522.53,54.00 L522.65,53.37 L522.77,52.96 L522.89,52.77 L523.02,52.79 L523.14,53.05 L523.26,53.52 L523.38,54.20 L523.50,55.08 L523.62,56.14 L523.74,57.36 L523.86,58.72 L523.98,60.19 L524.10,61.75 L524.22,63.36 L524.34,65.00 L524.46,66.63 L524.58,68.22 L524.70,69.74 L524.83,71.16 L524.95,72.46 L525.07,73.62 L525.19,74.60 L525.31,75.39 L525.43,75.97 L525.55,76.34 L525.67,76.49 L525.79,76.42 L525.91,76.12 L526.03,75.61 L526.15,74.89 L526.27,73.99 L526.39,72.91 L526.51,71.68 L526.64,70.32 L526.76,68.87 L526.88,67.35 L527.00,65.79 L527.12,64.22 L527.24,62.67 L527.36,61.17 L527.48,59.76 L527.60,58.46 L527.72,57.30 L527.84,56.30 L527.96,55.48 L528.08,54.85 L528.20,54.44 L528.32,54.24 L528.45,54.27 L528.57,54.52 L528.69,55.00 L528.81,55.68 L528.93,56.56 L529.05,57.62 L529.17,58.84 L529.29,60.20 L529.41,61.67 L529.53,63.23 L529.65,64.84 L529.77,66.48 L529.89,68.11 L530.01,69.70 L530.13,71.22 L530.26,72.64 L530.38,73.94 L530.50,75.09 L530.62,76.07 L530.74,76.86 L530.86,77.45 L530.98,77.82 L531.10,77.97 L531.22,77.90 L531.34,77.60 L531.46,77.09 L531.58,76.37 L531.70,75.46 L531.82,74.39 L531.94,73.16 L532.07,71.80 L532.19,70.35 L532.31,68.83 L532.43,67.27 L532.55,65.69 L532.67,64.15 L532.79,62.65 L532.91,61.24 L533.03,59.94 L533.15,58.78 L533.27,57.78 L533.39,56.96 L533.51,56.33 L533.63,55.92 L533.75,55.72 L533.88,55.75 L534.00,56.00 L534.12,56.47 L534.24,57.16 L534.36,58.04 L534.48,59.10 L534.60,60.32 L534.72,61.68 L534.84,63.15 L534.96,64.71 L535.08,66.32 L535.20,67.96 L535.32,69.59 L535.44,71.18 L535.56,72.70 L535.69,74.12 L535.81,75.42 L535.93,76.57 L536.05,77.55 L536.17,78.34 L536.29,78.93 L536.41,79.30 L536.53,79.45 L536.65,79.37 L536.77,79.08 L536.89,78.57 L537.01,77.85 L537.13,76.94 L537.25,75.87 L537.37,74.64 L537.50,73.28 L537.62,71.83 L537.74,70.31 L537.86,68.74 L537.98,67.17 L538.10,65.63 L538.22,64.13 L538.34,62.72 L538.46,61.42 L538.58,60.26 L538.70,59.26 L538.82,58.44 L538.94,57.81 L539.06,57.40 L539.18,57.20 L539.31,57.23 L539.43,57.48 L539.55,57.95 L539.67,58.63 L539.79,59.51 L539.91,60.57 L540.03,61.80 L540.15,63.16 L540.27,64.63 L540.39,66.19 L540.51,67.80 L540.63,69.44 L540.75,71.06 L540.87,72.66 L540.99,74.18 L541.12,75.60 L541.24,76.90 L541.36,78.05 L541.48,79.03 L541.60,79.82 L541.72,80.41 L541.84,80.78 L541.96,80.93 L542.08,80.85 L542.20,80.56 L542.32,80.05 L542.44,79.33 L542.56,78.42 L542.68,77.34 L542.80,76.12 L542.93,74.76 L543.05,73.31 L543.17,71.79 L543.29,70.22 L543.41,68.65 L543.53,67.10 L543.65,65.61 L543.77,64.20 L543.89,62.90 L544.01,61.74 L544.13,60.74 L544.25,59.91 L544.37,59.29 L544.49,58.88 L544.61,58.68 L544.74,58.71 L544.86,58.96 L544.98,59.43 L545.10,60.11 L545.22,60.99 L545.34,62.05 L545.46,63.28 L545.58,64.64 L545.70,66.11 L545.82,67.67 L545.94,69.28 L546.06,70.92 L546.18,72.54 L546.30,74.13 L546.42,75.66 L546.55,77.08 L546.67,78.38 L546.79,79.53 L546.91,80.51 L547.03,81.30 L547.15,81.89 L547.27,82.26 L547.39,82.41 L547.51,82.33 L547.63,82.04 L547.75,81.53 L547.87,80.81 L547.99,79.90 L548.11,78.82 L548.23,77.60 L548.36,76.24 L548.48,74.79 L548.60,73.26 L548.72,71.70 L548.84,70.13 L548.96,68.58 L549.08,67.09 L549.20,65.68 L549.32,64.38 L549.44,63.22 L549.56,62.21 L549.68,61.39 L549.80,60.77 L549.92,60.36 L550.04,60.16 L550.17,60.19 L550.29,60.44 L550.41,60.91 L550.53,61.59 L550.65,62.47 L550.77,63.53 L550.89,64.76 L551.01,66.12 L551.13,67.59 L551.25,69.15 L551.37,70.76 L551.49,72.39 L551.61,74.02 L551.73,75.61 L551.85,77.14 L551.98,78.56 L552.10,79.86 L552.22,81.01 L552.34,81.99 L552.46,82.78 L552.58,83.37 L552.70,83.74 L552.82,83.89 L552.94,83.81 L553.06,83.52 L553.18,83.00 L553.30,82.29 L553.42,81.38 L553.54,80.30 L553.66,79.07 L553.79,77.72 L553.91,76.27 L554.03,74.74 L554.15,73.18 L554.27,71.61 L554.39,70.06 L554.51,68.57 L554.63,67.16 L554.75,65.86 L554.87,64.70 L554.99,63.69 L555.11,62.87 L555.23,62.25 L555.35,61.84 L555.47,61.64 L555.60,61.67 L555.72,61.92 L555.84,62.39 L555.96,63.07 L556.08,63.95 L556.20,65.01 L556.32,66.23 L556.44,67.59 L556.56,69.07 L556.68,70.63 L556.80,72.24 L556.92,73.87 L557.04,75.50 L557.16,77.09 L557.28,78.62 L557.41,80.04 L557.53,81.34 L557.65,82.49 L557.77,83.47 L557.89,84.26 L558.01,84.85 L558.13,85.22 L558.25,85.37 L558.37,85.29 L558.49,84.99 L558.61,84.48 L558.73,83.77 L558.85,82.86 L558.97,81.78 L559.09,80.55 L559.22,79.20 L559.34,77.75 L559.46,76.22 L559.58,74.66 L559.70,73.09 L559.82,71.54 L559.94,70.05 L560.06,68.64 L560.18,67.34 L560.30,66.17 L560.42,65.17 L560.54,64.35 L560.66,63.73 L560.78,63.31 L560.90,63.12 L561.03,63.15 L561.15,63.40 L561.27,63.87 L561.39,64.55 L561.51,65.43 L561.63,66.49 L561.75,67.71 L561.87,69.07 L561.99,70.55 L562.11,72.10 L562.23,73.72 L562.35,75.35 L562.47,76.98 L562.59,78.57 L562.71,80.09 L562.84,81.52 L562.96,82.82 L563.08,83.97 L563.20,84.95 L563.32,85.74 L563.44,86.32 L563.56,86.70 L563.68,86.84 L563.80,86.77 L563.92,86.47 L564.04,85.96 L564.16,85.25 L564.28,84.34 L564.40,83.26 L564.52,82.03 L564.65,80.68 L564.77,79.23 L564.89,77.70 L565.01,76.14 L565.13,74.57 L565.25,73.02 L565.37,71.53 L565.49,70.12 L565.61,68.82 L565.73,67.65 L565.85,66.65 L565.97,65.83 L566.09,65.21 L566.21,64.79 L566.33,64.60 L566.46,64.63 L566.58,64.88 L566.70,65.35 L566.82,66.03 L566.94,66.91 L567.06,67.97 L567.18,69.19 L567.30,70.55 L567.42,72.03 L567.54,73.58 L567.66,75.20 L567.78,76.83 L567.90,78.46 L568.02,80.05 L568.14,81.57 L568.27,83.00 L568.39,84.30 L568.51,85.45 L568.63,86.43 L568.75,87.22 L568.87,87.80 L568.99,88.17 L569.11,88.32 L569.23,88.25 L569.35,87.95 L569.47,87.44 L569.59,86.73 L569.71,85.82 L569.83,84.74 L569.95,83.51 L570.08,82.16 L570.20,80.70 L570.32,79.18 L570.44,77.62 L570.56,76.05 L570.68,74.50 L570.80,73.01 L570.92,71.60 L571.04,70.30 L571.16,69.13 L571.28,68.13 L571.40,67.31 L571.52,66.69 L571.64,66.27 L571.76,66.08 L571.89,66.11 L572.01,66.36 L572.13,66.83 L572.25,67.51 L572.37,68.39 L572.49,69.45 L572.61,70.67 L572.73,72.03 L572.85,73.51 L572.97,75.06 L573.09,76.67 L573.21,78.31 L573.33,79.94 L573.45,81.53 L573.57,83.05 L573.70,84.48 L573.82,85.78 L573.94,86.93 L574.06,87.91 L574.18,88.70 L574.30,89.28 L574.42,89.65 L574.54,89.80 L574.66,89.73 L574.78,89.43 L574.90,88.92 L575.02,88.20 L575.14,87.30 L575.26,86.22 L575.38,84.99 L575.51,83.64 L575.63,82.18 L575.75,80.66 L575.87,79.10 L575.99,77.53 L576.11,75.98 L576.23,74.49 L576.35,73.07 L576.47,71.77 L576.59,70.61 L576.71,69.61 L576.83,68.79 L576.95,68.17 L577.07,67.75 L577.19,67.56 L577.32,67.59 L577.44,67.84 L577.56,68.31 L577.68,68.99 L577.80,69.87 L577.92,70.93 L578.04,72.15 L578.16,73.51 L578.28,74.98 L578.40,76.54 L578.52,78.15 L578.64,79.79 L578.76,81.42 L578.88,83.01 L579.00,84.53 L579.13,85.96 L579.25,87.26 L579.37,88.41 L579.49,89.39 L579.61,90.18 L579.73,90.76 L579.85,91.13 L579.97,91.28 L580.09,91.21 L580.21,90.91 L580.33,90.40 L580.45,89.68 L580.57,88.78 L580.69,87.70 L580.81,86.47 L580.94,85.12 L581.06,83.66 L581.18,82.14 L581.30,80.58 L581.42,79.01 L581.54,77.46 L581.66,75.96 L581.78,74.55 L581.90,73.25 L582.02,72.09 L582.14,71.09 L582.26,70.27 L582.38,69.64 L582.50,69.23 L582.62,69.04 L582.75,69.06 L582.87,69.32 L582.99,69.79 L583.11,70.47 L583.23,71.35 L583.35,72.41 L583.47,73.63 L583.59,74.99 L583.71,76.46 L583.83,78.02 L583.95,79.63 L584.07,81.27 L584.19,82.90 L584.31,84.49 L584.43,86.01 L584.56,87.44 L584.68,88.74 L584.80,89.89 L584.92,90.87 L585.04,91.66 L585.16,92.24 L585.28,92.61 L585.40,92.76 L585.52,92.69 L585.64,92.39 L585.76,91.88 L585.88,91.16 L586.00,90.26 L586.12,89.18 L586.24,87.95 L586.37,86.59 L586.49,85.14 L586.61,83.62 L586.73,82.06 L586.85,80.49 L586.97,78.94 L587.09,77.44 L587.21,76.03 L587.33,74.73 L587.45,73.57 L587.57,72.57 L587.69,71.75 L587.81,71.12 L587.93,70.71 L588.05,70.51 L588.18,70.54 L588.30,70.80 L588.42,71.27 L588.54,71.95 L588.66,72.83 L588.78,73.89 L588.90,75.11 L589.02,76.47 L589.14,77.94 L589.26,79.50 L589.38,81.11 L589.50,82.75 L589.62,84.38 L589.74,85.97 L589.86,87.49 L589.99,88.91 L590.11,90.21 L590.23,91.37 L590.35,92.34 L590.47,93.13 L590.59,93.72 L590.71,94.09 L590.83,94.24 L590.95,94.17 L591.07,93.87 L591.19,93.36 L591.31,92.64 L591.43,91.74 L591.55,90.66 L591.67,89.43 L591.80,88.07 L591.92,86.62 L592.04,85.10 L592.16,83.54 L592.28,81.97 L592.40,80.42 L592.52,78.92 L592.64,77.51 L592.76,76.21 L592.88,75.05 L593.00,74.05 L593.12,73.23 L593.24,72.60 L593.36,72.19 L593.48,71.99 L593.61,72.02 L593.73,72.27 L593.85,72.74 L593.97,73.43 L594.09,74.31 L594.21,75.37 L594.33,76.59 L594.45,77.95 L594.57,79.42 L594.69,80.98 L594.81,82.59 L594.93,84.23 L595.05,85.86 L595.17,87.45 L595.29,88.97 L595.42,90.39 L595.54,91.69 L595.66,92.84 L595.78,93.82 L595.90,94.61 L596.02,95.20 L596.14,95.57 L596.26,95.72 L596.38,95.65 L596.50,95.35 L596.62,94.84 L596.74,94.12 L596.86,93.21 L596.98,92.14 L597.10,90.91 L597.23,89.55 L597.35,88.10 L597.47,86.58 L597.59,85.01 L597.71,83.44 L597.83,81.90 L597.95,80.40 L598.07,78.99 L598.19,77.69 L598.31,76.53 L598.43,75.53 L598.55,74.71 L598.67,74.08 L598.79,73.67 L598.91,73.47 L599.04,73.50 L599.16,73.75 L599.28,74.22 L599.40,74.91 L599.52,75.78 L599.64,76.85 L599.76,78.07 L599.88,79.43 L600.00,80.90 L600.12,82.46 L600.24,84.07 L600.36,85.71 L600.48,87.34 L600.60,88.93 L600.72,90.45 L600.85,91.87 L600.97,93.17 L601.09,94.32 L601.21,95.30 L601.33,96.09 L601.45,96.68 L601.57,97.05 L601.69,97.20 L601.81,97.12 L601.93,96.83 L602.05,96.32 L602.17,95.60 L602.29,94.69 L602.41,93.62 L602.53,92.39 L602.66,91.03 L602.78,89.58 L602.90,88.06 L603.02,86.49 L603.14,84.92 L603.26,83.38 L603.38,81.88 L603.50,80.47" fill="none" stroke="#F2B21E" stroke-width="1.6" stroke-linejoin="round" stroke-linecap="round" />
<path d="M472.30,95.60 L472.42,95.55 L472.54,95.32 L472.66,94.92 L472.78,94.36 L472.90,93.62 L473.02,92.73 L473.14,91.67 L473.27,90.47 L473.39,89.12 L473.51,87.62 L473.63,86.00 L473.75,84.25 L473.87,82.38 L473.99,80.41 L474.11,78.34 L474.23,76.19 L474.35,73.96 L474.47,71.66 L474.59,69.31 L474.71,66.92 L474.83,64.50 L474.95,62.06 L475.08,59.62 L475.20,57.18 L475.32,54.76 L475.44,52.37 L475.56,50.02 L475.68,47.72 L475.80,45.49 L475.92,43.34 L476.04,41.27 L476.16,39.30 L476.28,37.43 L476.40,35.68 L476.52,34.06 L476.64,32.56 L476.76,31.21 L476.89,30.00 L477.01,28.95 L477.13,28.06 L477.25,27.32 L477.37,26.76 L477.49,26.36 L477.61,26.13 L477.73,26.08 L477.85,26.20 L477.97,26.49 L478.09,26.95 L478.21,27.59 L478.33,28.38 L478.45,29.35 L478.57,30.46 L478.70,31.74 L478.82,33.15 L478.94,34.71 L479.06,36.40 L479.18,38.22 L479.30,40.15 L479.42,42.19 L479.54,44.32 L479.66,46.54 L479.78,48.84 L479.90,51.20 L480.02,53.62 L480.14,56.07 L480.26,58.56 L480.38,61.06 L480.51,63.57 L480.63,66.08 L480.75,68.57 L480.87,71.02 L480.99,73.44 L481.11,75.80 L481.23,78.09 L481.35,80.32 L481.47,82.45 L481.59,84.49 L481.71,86.42 L481.83,88.23 L481.95,89.92 L482.07,91.48 L482.19,92.90 L482.32,94.17 L482.44,95.29 L482.56,96.25 L482.68,97.05 L482.80,97.68 L482.92,98.15 L483.04,98.44 L483.16,98.56 L483.28,98.50 L483.40,98.28 L483.52,97.88 L483.64,97.31 L483.76,96.58 L483.88,95.69 L484.00,94.63 L484.13,93.43 L484.25,92.07 L484.37,90.58 L484.49,88.96 L484.61,87.21 L484.73,85.34 L484.85,83.37 L484.97,81.30 L485.09,79.15 L485.21,76.92 L485.33,74.62 L485.45,72.27 L485.57,69.88 L485.69,67.46 L485.81,65.02 L485.94,62.58 L486.06,60.14 L486.18,57.72 L486.30,55.32 L486.42,52.98 L486.54,50.68 L486.66,48.45 L486.78,46.29 L486.90,44.23 L487.02,42.25 L487.14,40.39 L487.26,38.64 L487.38,37.01 L487.50,35.52 L487.62,34.17 L487.75,32.96 L487.87,31.91 L487.99,31.01 L488.11,30.28 L488.23,29.71 L488.35,29.32 L488.47,29.09 L488.59,29.04 L488.71,29.16 L488.83,29.45 L488.95,29.91 L489.07,30.54 L489.19,31.34 L489.31,32.30 L489.43,33.42 L489.56,34.69 L489.68,36.11 L489.80,37.67 L489.92,39.36 L490.04,41.18 L490.16,43.11 L490.28,45.15 L490.40,47.28 L490.52,49.50 L490.64,51.80 L490.76,54.16 L490.88,56.57 L491.00,59.03 L491.12,61.52 L491.24,64.02 L491.37,66.53 L491.49,69.04 L491.61,71.52 L491.73,73.98 L491.85,76.39 L491.97,78.76 L492.09,81.05 L492.21,83.27 L492.33,85.41 L492.45,87.45 L492.57,89.38 L492.69,91.19 L492.81,92.88 L492.93,94.44 L493.05,95.86 L493.18,97.13 L493.30,98.25 L493.42,99.21 L493.54,100.01 L493.66,100.64 L493.78,101.11 L493.90,101.40 L494.02,101.52 L494.14,101.46 L494.26,101.24 L494.38,100.84 L494.50,100.27 L494.62,99.54 L494.74,98.64 L494.86,97.59 L494.99,96.39 L495.11,95.03 L495.23,93.54 L495.35,91.91 L495.47,90.17 L495.59,88.30 L495.71,86.33 L495.83,84.26 L495.95,82.10 L496.07,79.87 L496.19,77.58 L496.31,75.23 L496.43,72.84 L496.55,70.42 L496.67,67.98 L496.80,65.53 L496.92,63.09 L497.04,60.67 L497.16,58.28 L497.28,55.93 L497.40,53.64 L497.52,51.41 L497.64,49.25 L497.76,47.18 L497.88,45.21 L498.00,43.35 L498.12,41.60 L498.24,39.97 L498.36,38.48 L498.48,37.13 L498.61,35.92 L498.73,34.87 L498.85,33.97 L498.97,33.24 L499.09,32.67 L499.21,32.28 L499.33,32.05 L499.45,32.00 L499.57,32.12 L499.69,32.41 L499.81,32.87 L499.93,33.50 L500.05,34.30 L500.17,35.26 L500.29,36.38 L500.42,37.65 L500.54,39.07 L500.66,40.63 L500.78,42.32 L500.90,44.14 L501.02,46.07 L501.14,48.10 L501.26,50.24 L501.38,52.46 L501.50,54.76 L501.62,57.12 L501.74,59.53 L501.86,61.99 L501.98,64.48 L502.10,66.98 L502.23,69.49 L502.35,72.00 L502.47,74.48 L502.59,76.94 L502.71,79.35 L502.83,81.71 L502.95,84.01 L503.07,86.23 L503.19,88.37 L503.31,90.40 L503.43,92.33 L503.55,94.15 L503.67,95.84 L503.79,97.40 L503.91,98.82 L504.04,100.09 L504.16,101.21 L504.28,102.17 L504.40,102.97 L504.52,103.60 L504.64,104.06 L504.76,104.36 L504.88,104.47 L505.00,104.42 L505.12,104.20 L505.24,103.80 L505.36,103.23 L505.48,102.50 L505.60,101.60 L505.72,100.55 L505.85,99.34 L505.97,97.99 L506.09,96.50 L506.21,94.87 L506.33,93.12 L506.45,91.26 L506.57,89.29 L506.69,87.22 L506.81,85.06 L506.93,82.83 L507.05,80.54 L507.17,78.19 L507.29,75.80 L507.41,73.38 L507.53,70.94 L507.66,68.49 L507.78,66.05 L507.90,63.63 L508.02,61.24 L508.14,58.89 L508.26,56.60 L508.38,54.37 L508.50,52.21 L508.62,50.14 L508.74,48.17 L508.86,46.31 L508.98,44.56 L509.10,42.93 L509.22,41.44 L509.34,40.09 L509.47,38.88 L509.59,37.83 L509.71,36.93 L509.83,36.20 L509.95,35.63 L510.07,35.23 L510.19,35.01 L510.31,34.95 L510.43,35.07 L510.55,35.37 L510.67,35.83 L510.79,36.46 L510.91,37.26 L511.03,38.22 L511.15,39.34 L511.28,40.61 L511.40,42.03 L511.52,43.59 L511.64,45.28 L511.76,47.09 L511.88,49.03 L512.00,51.06 L512.12,53.20 L512.24,55.42 L512.36,57.71 L512.48,60.08 L512.60,62.49 L512.72,64.95 L512.84,67.43 L512.96,69.94 L513.09,72.45 L513.21,74.95 L513.33,77.44 L513.45,79.90 L513.57,82.31 L513.69,84.67 L513.81,86.97 L513.93,89.19 L514.05,91.32 L514.17,93.36 L514.29,95.29 L514.41,97.11 L514.53,98.80 L514.65,100.36 L514.77,101.78 L514.90,103.05 L515.02,104.17 L515.14,105.13 L515.26,105.93 L515.38,106.56 L515.50,107.02 L515.62,107.31 L515.74,107.43 L515.86,107.38 L515.98,107.15 L516.10,106.76 L516.22,106.19 L516.34,105.46 L516.46,104.56 L516.58,103.51 L516.71,102.30 L516.83,100.95 L516.95,99.46 L517.07,97.83 L517.19,96.08 L517.31,94.22 L517.43,92.24 L517.55,90.18 L517.67,88.02 L517.79,85.79 L517.91,83.49 L518.03,81.15 L518.15,78.75 L518.27,76.33 L518.39,73.90 L518.52,71.45 L518.64,69.01 L518.76,66.59 L518.88,64.20 L519.00,61.85 L519.12,59.55 L519.24,57.32 L519.36,55.17 L519.48,53.10 L519.60,51.13 L519.72,49.26 L519.84,47.51 L519.96,45.89 L520.08,44.40 L520.20,43.04 L520.33,41.84 L520.45,40.78 L520.57,39.89 L520.69,39.16 L520.81,38.59 L520.93,38.19 L521.05,37.97 L521.17,37.91 L521.29,38.03 L521.41,38.32 L521.53,38.79 L521.65,39.42 L521.77,40.22 L521.89,41.18 L522.01,42.30 L522.14,43.57 L522.26,44.99 L522.38,46.55 L522.50,48.24 L522.62,50.05 L522.74,51.98 L522.86,54.02 L522.98,56.16 L523.10,58.38 L523.22,60.67 L523.34,63.03 L523.46,65.45 L523.58,67.91 L523.70,70.39 L523.82,72.90 L523.95,75.41 L524.07,77.91 L524.19,80.40 L524.31,82.86 L524.43,85.27 L524.55,87.63 L524.67,89.93 L524.79,92.15 L524.91,94.28 L525.03,96.32 L525.15,98.25 L525.27,100.07 L525.39,101.76 L525.51,103.32 L525.63,104.73 L525.76,106.01 L525.88,107.12 L526.00,108.09 L526.12,108.88 L526.24,109.52 L526.36,109.98 L526.48,110.27 L526.60,110.39 L526.72,110.34 L526.84,110.11 L526.96,109.71 L527.08,109.15 L527.20,108.41 L527.32,107.52 L527.44,106.47 L527.57,105.26 L527.69,103.91 L527.81,102.41 L527.93,100.79 L528.05,99.04 L528.17,97.17 L528.29,95.20 L528.41,93.13 L528.53,90.98 L528.65,88.75 L528.77,86.45 L528.89,84.10 L529.01,81.71 L529.13,79.29 L529.25,76.85 L529.38,74.41 L529.50,71.97 L529.62,69.55 L529.74,67.16 L529.86,64.81 L529.98,62.51 L530.10,60.28 L530.22,58.13 L530.34,56.06 L530.46,54.09 L530.58,52.22 L530.70,50.47 L530.82,48.85 L530.94,47.35 L531.06,46.00 L531.19,44.80 L531.31,43.74 L531.43,42.85 L531.55,42.11 L531.67,41.55 L531.79,41.15 L531.91,40.92 L532.03,40.87 L532.15,40.99 L532.27,41.28 L532.39,41.74 L532.51,42.38 L532.63,43.18 L532.75,44.14 L532.87,45.26 L533.00,46.53 L533.12,47.95 L533.24,49.50 L533.36,51.20 L533.48,53.01 L533.60,54.94 L533.72,56.98 L533.84,59.11 L533.96,61.33 L534.08,63.63 L534.20,65.99 L534.32,68.41 L534.44,70.86 L534.56,73.35 L534.68,75.85 L534.81,78.37 L534.93,80.87 L535.05,83.36 L535.17,85.81 L535.29,88.23 L535.41,90.59 L535.53,92.89 L535.65,95.11 L535.77,97.24 L535.89,99.28 L536.01,101.21 L536.13,103.02 L536.25,104.72 L536.37,106.27 L536.49,107.69 L536.62,108.96 L536.74,110.08 L536.86,111.04 L536.98,111.84 L537.10,112.48 L537.22,112.94 L537.34,113.23 L537.46,113.35 L537.58,113.30 L537.70,113.07 L537.82,112.67 L537.94,112.11 L538.06,111.37 L538.18,110.48 L538.30,109.42 L538.43,108.22 L538.55,106.87 L538.67,105.37 L538.79,103.75 L538.91,102.00 L539.03,100.13 L539.15,98.16 L539.27,96.09 L539.39,93.94 L539.51,91.71 L539.63,89.41 L539.75,87.06 L539.87,84.67 L539.99,82.25 L540.11,79.81 L540.24,77.37 L540.36,74.93 L540.48,72.51 L540.60,70.12 L540.72,67.77 L540.84,65.47 L540.96,63.24 L541.08,61.09 L541.20,59.02 L541.32,57.05 L541.44,55.18 L541.56,53.43 L541.68,51.81 L541.80,50.31 L541.92,48.96 L542.05,47.75 L542.17,46.70 L542.29,45.81 L542.41,45.07 L542.53,44.51 L542.65,44.11 L542.77,43.88 L542.89,43.83 L543.01,43.95 L543.13,44.24 L543.25,44.70 L543.37,45.34 L543.49,46.13 L543.61,47.10 L543.73,48.21 L543.86,49.49 L543.98,50.90 L544.10,52.46 L544.22,54.15 L544.34,55.97 L544.46,57.90 L544.58,59.94 L544.70,62.07 L544.82,64.29 L544.94,66.59 L545.06,68.95 L545.18,71.37 L545.30,73.82 L545.42,76.31 L545.54,78.81 L545.67,81.32 L545.79,83.83 L545.91,86.31 L546.03,88.77 L546.15,91.19 L546.27,93.55 L546.39,95.84 L546.51,98.06 L546.63,100.20 L546.75,102.24 L546.87,104.17 L546.99,105.98 L547.11,107.67 L547.23,109.23 L547.35,110.65 L547.48,111.92 L547.60,113.04 L547.72,114.00 L547.84,114.80 L547.96,115.43 L548.08,115.90 L548.20,116.19 L548.32,116.31 L548.44,116.25 L548.56,116.03 L548.68,115.63 L548.80,115.06 L548.92,114.33 L549.04,113.44 L549.16,112.38 L549.29,111.18 L549.41,109.82 L549.53,108.33 L549.65,106.71 L549.77,104.96 L549.89,103.09 L550.01,101.12 L550.13,99.05 L550.25,96.90 L550.37,94.67 L550.49,92.37 L550.61,90.02 L550.73,87.63 L550.85,85.21 L550.97,82.77 L551.10,80.32 L551.22,77.89 L551.34,75.47 L551.46,73.07 L551.58,70.73 L551.70,68.43 L551.82,66.20 L551.94,64.04 L552.06,61.98 L552.18,60.00 L552.30,58.14 L552.42,56.39 L552.54,54.76 L552.66,53.27 L552.78,51.92 L552.91,50.71 L553.03,49.66 L553.15,48.76 L553.27,48.03 L553.39,47.46 L553.51,47.07 L553.63,46.84 L553.75,46.79 L553.87,46.91 L553.99,47.20 L554.11,47.66 L554.23,48.29 L554.35,49.09 L554.47,50.05 L554.59,51.17 L554.72,52.44 L554.84,53.86 L554.96,55.42 L555.08,57.11 L555.20,58.93 L555.32,60.86 L555.44,62.90 L555.56,65.03 L555.68,67.25 L555.80,69.55 L555.92,71.91 L556.04,74.32 L556.16,76.78 L556.28,79.27 L556.40,81.77 L556.53,84.28 L556.65,86.79 L556.77,89.27 L556.89,91.73 L557.01,94.14 L557.13,96.51 L557.25,98.80 L557.37,101.02 L557.49,103.16 L557.61,105.19 L557.73,107.13 L557.85,108.94 L557.97,110.63 L558.09,112.19 L558.21,113.61 L558.34,114.88 L558.46,116.00 L558.58,116.96 L558.70,117.76 L558.82,118.39 L558.94,118.85 L559.06,119.15 L559.18,119.27 L559.30,119.21 L559.42,118.99 L559.54,118.59 L559.66,118.02 L559.78,117.29 L559.90,116.39 L560.02,115.34 L560.15,114.13 L560.27,112.78 L560.39,111.29 L560.51,109.66 L560.63,107.91 L560.75,106.05 L560.87,104.08 L560.99,102.01 L561.11,99.85 L561.23,97.62 L561.35,95.33 L561.47,92.98 L561.59,90.59 L561.71,88.17 L561.83,85.73 L561.96,83.28 L562.08,80.84 L562.20,78.42 L562.32,76.03 L562.44,73.68 L562.56,71.39 L562.68,69.16 L562.80,67.00 L562.92,64.93 L563.04,62.96 L563.16,61.10 L563.28,59.35 L563.40,57.72 L563.52,56.23 L563.64,54.88 L563.77,53.67 L563.89,52.62 L564.01,51.72 L564.13,50.99 L564.25,50.42 L564.37,50.02 L564.49,49.80 L564.61,49.75 L564.73,49.86 L564.85,50.16 L564.97,50.62 L565.09,51.25 L565.21,52.05 L565.33,53.01 L565.45,54.13 L565.58,55.40 L565.70,56.82 L565.82,58.38 L565.94,60.07 L566.06,61.89 L566.18,63.82 L566.30,65.85 L566.42,67.99 L566.54,70.21 L566.66,72.51 L566.78,74.87 L566.90,77.28 L567.02,79.74 L567.14,82.22 L567.26,84.73 L567.39,87.24 L567.51,89.74 L567.63,92.23 L567.75,94.69 L567.87,97.10 L567.99,99.46 L568.11,101.76 L568.23,103.98 L568.35,106.12 L568.47,108.15 L568.59,110.08 L568.71,111.90 L568.83,113.59 L568.95,115.15 L569.07,116.57 L569.20,117.84 L569.32,118.96 L569.44,119.92 L569.56,120.72 L569.68,121.35 L569.80,121.81 L569.92,122.11 L570.04,122.22 L570.16,122.17 L570.28,121.94 L570.40,121.55 L570.52,120.98 L570.64,120.25 L570.76,119.35 L570.88,118.30 L571.01,117.09 L571.13,115.74 L571.25,114.25 L571.37,112.62 L571.49,110.87 L571.61,109.01 L571.73,107.04 L571.85,104.97 L571.97,102.81 L572.09,100.58 L572.21,98.29 L572.33,95.94 L572.45,93.55 L572.57,91.13 L572.69,88.69 L572.82,86.24 L572.94,83.80 L573.06,81.38 L573.18,78.99 L573.30,76.64 L573.42,74.35 L573.54,72.12 L573.66,69.96 L573.78,67.89 L573.90,65.92 L574.02,64.05 L574.14,62.31 L574.26,60.68 L574.38,59.19 L574.50,57.83 L574.63,56.63 L574.75,55.58 L574.87,54.68 L574.99,53.95 L575.11,53.38 L575.23,52.98 L575.35,52.76 L575.47,52.70 L575.59,52.82 L575.71,53.11 L575.83,53.58 L575.95,54.21 L576.07,55.01 L576.19,55.97 L576.31,57.09 L576.44,58.36 L576.56,59.78 L576.68,61.34 L576.80,63.03 L576.92,64.84 L577.04,66.77 L577.16,68.81 L577.28,70.95 L577.40,73.17 L577.52,75.46 L577.64,77.83 L577.76,80.24 L577.88,82.70 L578.00,85.18 L578.12,87.69 L578.25,90.20 L578.37,92.70 L578.49,95.19 L578.61,97.65 L578.73,100.06 L578.85,102.42 L578.97,104.72 L579.09,106.94 L579.21,109.07 L579.33,111.11 L579.45,113.04 L579.57,114.86 L579.69,116.55 L579.81,118.11 L579.93,119.53 L580.06,120.80 L580.18,121.92 L580.30,122.88 L580.42,123.68 L580.54,124.31 L580.66,124.77 L580.78,125.06 L580.90,125.18" fill="none" stroke="#EE4A4A" stroke-width="1.3" stroke-linejoin="round" stroke-linecap="round" />
<text x="554.30" y="136.60" font-size="9.1" text-anchor="start" font-weight="normal" font-style="normal" fill="#000" >Fundamental</text>
<text x="605" y="130.7" font-size="8.5" fill="#000">2<tspan font-size="5.5" dy="-3">nd</tspan></text>
<text x="626.9" y="128.1" font-size="8.5" fill="#000">3<tspan font-size="5.5" dy="-3">rd</tspan></text>
<text x="652.1" y="123.6" font-size="8.5" fill="#000">4<tspan font-size="5.5" dy="-3">th</tspan></text>
<text transform="translate(633,137.2) rotate(-8.8)" font-size="10" fill="#000">Harmonics</text>
<text x="500.60" y="172.00" font-size="16.2" text-anchor="start" font-weight="normal" font-style="normal" fill="#E8484A" textLength="31" lengthAdjust="spacingAndGlyphs">THD</text>
<text x="536.50" y="172.50" font-size="17" text-anchor="start" font-weight="normal" font-style="normal" fill="#E8484A" >=</text>
<path d="M554.8,158.6 L556.7,157.5 L559.6,165.4 L567.3,148.6 L625.3,148.6" fill="none" stroke="#E8484A" stroke-width="0.9"/>
<text x="568.30" y="165.00" font-size="22.5" text-anchor="start" font-weight="normal" font-style="normal" fill="#E8484A" textLength="12.8" lengthAdjust="spacingAndGlyphs">Σ</text>
<text x="582.90" y="156.90" font-size="13.2" text-anchor="start" font-weight="normal" font-style="normal" fill="#E8484A" textLength="11.4" lengthAdjust="spacingAndGlyphs">∞</text>
<text x="583" y="165.3" font-size="11.5" fill="#E8484A" textLength="21" lengthAdjust="spacingAndGlyphs"><tspan font-style="italic">n</tspan>=2</text>
<text x="607.00" y="161.90" font-size="15.8" text-anchor="start" font-weight="normal" font-style="italic" fill="#E8484A" >V</text>
<text x="619.30" y="157.20" font-size="10.5" text-anchor="start" font-weight="normal" font-style="normal" fill="#E8484A" >2</text>
<text x="616.50" y="165.00" font-size="10.5" text-anchor="start" font-weight="normal" font-style="italic" fill="#E8484A" >n</text>
<line x1="553.10" y1="167.70" x2="625.40" y2="167.70" stroke="#E8484A" stroke-width="0.9" />
<text x="581.20" y="181.50" font-size="15.5" text-anchor="start" font-weight="normal" font-style="italic" fill="#E8484A" >V</text>
<text x="591.30" y="183.70" font-size="10.5" text-anchor="start" font-weight="normal" font-style="normal" fill="#E8484A" >1</text>
<text x="631.00" y="173.00" font-size="16.5" text-anchor="start" font-weight="normal" font-style="normal" fill="#E8484A" >≈ 33%</text>
<clipPath id="cb1"><rect x="98.9" y="268.2" width="583.7" height="108.0"/></clipPath>
<g clip-path="url(#cb1)">
<path d="M99.80,343.91 L100.28,344.90 L100.77,345.87 L101.25,346.83 L101.74,347.77 L102.22,348.69 L102.71,349.59 L103.19,350.47 L103.68,351.33 L104.16,352.17 L104.65,352.99 L105.13,353.79 L105.62,354.56 L106.11,355.32 L106.59,356.04 L107.08,356.75 L107.56,357.43 L108.05,358.08 L108.53,358.71 L109.02,359.31 L109.50,359.88 L109.98,360.43 L110.47,360.95 L110.95,361.44 L111.44,361.91 L111.92,362.34 L112.41,362.75 L112.89,363.13 L113.38,363.47 L113.86,363.79 L114.35,364.08 L114.83,364.34 L115.32,364.57 L115.81,364.76 L116.29,364.93 L116.78,365.07 L117.26,365.17 L117.75,365.25 L118.23,365.29 L118.72,365.30 L119.20,365.28 L119.69,365.24 L120.17,365.17 L120.66,365.07 L121.14,364.95 L121.62,364.79 L122.11,364.61 L122.59,364.41 L123.08,364.18 L123.56,363.92 L124.05,363.63 L124.53,363.32 L125.02,362.99 L125.50,362.63 L125.99,362.24 L126.47,361.83 L126.96,361.39 L127.44,360.93 L127.93,360.44 L128.41,359.93 L128.90,359.39 L129.38,358.84 L129.87,358.26 L130.35,357.65 L130.84,357.03 L131.32,356.38 L131.81,355.71 L132.30,355.02 L132.78,354.31 L133.26,353.58 L133.75,352.83 L134.24,352.07 L134.72,351.28 L135.20,350.47 L135.69,349.65 L136.18,348.81 L136.66,347.95 L137.15,347.08 L137.63,346.19 L138.12,345.29 L138.60,344.37 L139.09,343.44 L139.57,342.50 L140.06,341.54 L140.54,340.57 L141.03,339.59 L141.51,338.60 L142.00,337.60 L142.48,336.59 L142.97,335.57 L143.45,334.55 L143.94,333.51 L144.42,332.47 L144.91,331.43 L145.39,330.37 L145.88,329.32 L146.36,328.26 L146.84,327.19 L147.33,326.12 L147.81,325.06 L148.30,323.99 L148.78,322.91 L149.27,321.84 L149.75,320.77 L150.24,319.70 L150.72,318.64 L151.21,317.57 L151.69,316.51 L152.18,315.46 L152.66,314.41 L153.15,313.36 L153.63,312.32 L154.12,311.29 L154.60,310.26 L155.09,309.25 L155.57,308.24 L156.06,307.24 L156.55,306.25 L157.03,305.27 L157.51,304.31 L158.00,303.35 L158.49,302.41 L158.97,301.48 L159.45,300.57 L159.94,299.66 L160.43,298.78 L160.91,297.91 L161.40,297.05 L161.88,296.22 L162.37,295.40 L162.85,294.59 L163.33,293.81 L163.82,293.04 L164.31,292.30 L164.79,291.57 L165.28,290.86 L165.76,290.18 L166.25,289.51 L166.73,288.87 L167.22,288.25 L167.70,287.65 L168.19,287.07 L168.67,286.52 L169.16,285.99 L169.64,285.48 L170.12,285.00 L170.61,284.54 L171.09,284.11 L171.58,283.70 L172.06,283.31 L172.55,282.96 L173.03,282.62 L173.52,282.32 L174.00,282.04 L174.49,281.78 L174.98,281.56 L175.46,281.36 L175.94,281.18 L176.43,281.03 L176.91,280.91 L177.40,280.82 L177.88,280.75 L178.37,280.71 L178.86,280.70 L179.34,280.72 L179.82,280.76 L180.31,280.84 L180.80,280.95 L181.28,281.09 L181.76,281.27 L182.25,281.47 L182.74,281.70 L183.22,281.96 L183.70,282.26 L184.19,282.58 L184.68,282.93 L185.16,283.31 L185.65,283.73 L186.13,284.17 L186.62,284.63 L187.10,285.13 L187.58,285.66 L188.07,286.21 L188.56,286.79 L189.04,287.39 L189.53,288.02 L190.01,288.68 L190.50,289.36 L190.98,290.07 L191.47,290.80 L191.95,291.56 L192.44,292.34 L192.92,293.14 L193.41,293.96 L193.89,294.80 L194.38,295.67 L194.86,296.55 L195.34,297.46 L195.83,298.38 L196.31,299.32 L196.80,300.28 L197.29,301.26 L197.77,302.25 L198.25,303.25 L198.74,304.28 L199.22,305.31 L199.71,306.36 L200.19,307.42 L200.68,308.49 L201.17,309.57 L201.65,310.66 L202.13,311.76 L202.62,312.87 L203.11,313.99 L203.59,315.11 L204.07,316.24 L204.56,317.38 L205.05,318.51 L205.53,319.66 L206.01,320.80 L206.50,321.95 L206.99,323.09 L207.47,324.24 L207.96,325.38 L208.44,326.53 L208.93,327.67 L209.41,328.81 L209.89,329.94 L210.38,331.07 L210.87,332.19 L211.35,333.30 L211.84,334.41 L212.32,335.51 L212.81,336.60 L213.29,337.68 L213.77,338.75 L214.26,339.81 L214.75,340.86 L215.23,341.89 L215.72,342.91 L216.20,343.91 L216.69,344.90 L217.17,345.87 L217.66,346.83 L218.14,347.77 L218.62,348.69 L219.11,349.59 L219.59,350.47 L220.08,351.33 L220.56,352.17 L221.05,352.99 L221.54,353.79 L222.02,354.56 L222.50,355.32 L222.99,356.04 L223.48,356.75 L223.96,357.43 L224.44,358.08 L224.93,358.71 L225.41,359.31 L225.90,359.88 L226.38,360.43 L226.87,360.95 L227.36,361.44 L227.84,361.91 L228.32,362.34 L228.81,362.75 L229.30,363.13 L229.78,363.47 L230.26,363.79 L230.75,364.08 L231.24,364.34 L231.72,364.57 L232.20,364.76 L232.69,364.93 L233.18,365.07 L233.66,365.17 L234.14,365.25 L234.63,365.29 L235.12,365.30 L235.60,365.28 L236.09,365.24 L236.57,365.17 L237.06,365.07 L237.54,364.95 L238.02,364.79 L238.51,364.61 L239.00,364.41 L239.48,364.18 L239.96,363.92 L240.45,363.63 L240.94,363.32 L241.42,362.99 L241.91,362.63 L242.39,362.24 L242.88,361.83 L243.36,361.39 L243.85,360.93 L244.33,360.44 L244.81,359.93 L245.30,359.39 L245.79,358.84 L246.27,358.26 L246.75,357.65 L247.24,357.03 L247.73,356.38 L248.21,355.71 L248.69,355.02 L249.18,354.31 L249.67,353.58 L250.15,352.83 L250.63,352.07 L251.12,351.28 L251.61,350.47 L252.09,349.65 L252.57,348.81 L253.06,347.95 L253.55,347.08 L254.03,346.19 L254.51,345.29 L255.00,344.37 L255.49,343.44 L255.97,342.50 L256.46,341.54 L256.94,340.57 L257.43,339.59 L257.91,338.60 L258.39,337.60 L258.88,336.59 L259.37,335.57 L259.85,334.55 L260.33,333.51 L260.82,332.47 L261.31,331.43 L261.79,330.37 L262.27,329.32 L262.76,328.26 L263.25,327.19 L263.73,326.12 L264.22,325.06 L264.70,323.99 L265.19,322.91 L265.67,321.84 L266.16,320.77 L266.64,319.70 L267.12,318.64 L267.61,317.57 L268.10,316.51 L268.58,315.46 L269.06,314.41 L269.55,313.36 L270.03,312.32 L270.52,311.29 L271.00,310.26 L271.49,309.25 L271.98,308.24 L272.46,307.24 L272.94,306.25 L273.43,305.27 L273.92,304.31 L274.40,303.35 L274.88,302.41 L275.37,301.48 L275.86,300.57 L276.34,299.66 L276.82,298.78 L277.31,297.91 L277.80,297.05 L278.28,296.22 L278.77,295.40 L279.25,294.59 L279.74,293.81 L280.22,293.04 L280.70,292.30 L281.19,291.57 L281.68,290.86 L282.16,290.18 L282.64,289.51 L283.13,288.87 L283.62,288.25 L284.10,287.65 L284.58,287.07 L285.07,286.52 L285.56,285.99 L286.04,285.48 L286.53,285.00 L287.01,284.54 L287.50,284.11 L287.98,283.70 L288.47,283.31 L288.95,282.96 L289.44,282.62 L289.92,282.32 L290.41,282.04 L290.89,281.78 L291.38,281.56 L291.86,281.36 L292.34,281.18 L292.83,281.03 L293.31,280.91 L293.80,280.82 L294.29,280.75 L294.77,280.71 L295.25,280.70 L295.74,280.72 L296.23,280.76 L296.71,280.84 L297.19,280.95 L297.68,281.09 L298.17,281.27 L298.65,281.47 L299.13,281.70 L299.62,281.96 L300.11,282.26 L300.59,282.58 L301.07,282.93 L301.56,283.31 L302.05,283.73 L302.53,284.17 L303.01,284.63 L303.50,285.13 L303.99,285.66 L304.47,286.21 L304.95,286.79 L305.44,287.39 L305.93,288.02 L306.41,288.68 L306.89,289.36 L307.38,290.07 L307.87,290.80 L308.35,291.56 L308.84,292.34 L309.32,293.14 L309.81,293.96 L310.29,294.80 L310.78,295.67 L311.26,296.55 L311.75,297.46 L312.23,298.38 L312.71,299.32 L313.20,300.28 L313.69,301.26 L314.17,302.25 L314.66,303.25 L315.14,304.28 L315.62,305.31 L316.11,306.36 L316.60,307.42 L317.08,308.49 L317.56,309.57 L318.05,310.66 L318.54,311.76 L319.02,312.87 L319.50,313.99 L319.99,315.11 L320.48,316.24 L320.96,317.38 L321.44,318.51 L321.93,319.66 L322.42,320.80 L322.90,321.95 L323.38,323.09 L323.87,324.24 L324.36,325.38 L324.84,326.53 L325.32,327.67 L325.81,328.81 L326.30,329.94 L326.78,331.07 L327.26,332.19 L327.75,333.30 L328.24,334.41 L328.72,335.51 L329.21,336.60 L329.69,337.68 L330.18,338.75 L330.66,339.81 L331.15,340.86 L331.63,341.89 L332.12,342.91 L332.60,343.91 L333.09,344.90 L333.57,345.87 L334.06,346.83 L334.54,347.77 L335.03,348.69 L335.51,349.59 L336.00,350.47 L336.48,351.33 L336.97,352.17 L337.45,352.99 L337.94,353.79 L338.42,354.56 L338.91,355.32 L339.39,356.04 L339.88,356.75 L340.36,357.43 L340.85,358.08 L341.33,358.71 L341.81,359.31 L342.30,359.88 L342.79,360.43 L343.27,360.95 L343.75,361.44 L344.24,361.91 L344.72,362.34 L345.21,362.75 L345.69,363.13 L346.18,363.47 L346.66,363.79 L347.15,364.08 L347.64,364.34 L348.12,364.57 L348.61,364.76 L349.09,364.93 L349.58,365.07 L350.06,365.17 L350.55,365.25 L351.03,365.29 L351.52,365.30 L352.00,365.28 L352.49,365.24 L352.97,365.17 L353.46,365.07 L353.94,364.95 L354.43,364.79 L354.91,364.61 L355.39,364.41 L355.88,364.18 L356.37,363.92 L356.85,363.63 L357.34,363.32 L357.82,362.99 L358.31,362.63 L358.79,362.24 L359.28,361.83 L359.76,361.39 L360.25,360.93 L360.73,360.44 L361.21,359.93 L361.70,359.39 L362.19,358.84 L362.67,358.26 L363.16,357.65 L363.64,357.03 L364.13,356.38 L364.61,355.71 L365.10,355.02 L365.58,354.31 L366.07,353.58 L366.55,352.83 L367.04,352.07 L367.52,351.28 L368.01,350.47 L368.49,349.65 L368.98,348.81 L369.46,347.95 L369.94,347.08 L370.43,346.19 L370.92,345.29 L371.40,344.37 L371.88,343.44 L372.37,342.50 L372.86,341.54 L373.34,340.57 L373.82,339.59 L374.31,338.60 L374.80,337.60 L375.28,336.59 L375.76,335.57 L376.25,334.55 L376.74,333.51 L377.22,332.47 L377.71,331.43 L378.19,330.37 L378.68,329.32 L379.16,328.26 L379.65,327.19 L380.13,326.12 L380.62,325.06 L381.10,323.99 L381.59,322.91 L382.07,321.84 L382.56,320.77 L383.04,319.70 L383.53,318.64 L384.01,317.57 L384.50,316.51 L384.98,315.46 L385.47,314.41 L385.95,313.36 L386.44,312.32 L386.92,311.29 L387.41,310.26 L387.89,309.25 L388.38,308.24 L388.86,307.24 L389.35,306.25 L389.83,305.27 L390.31,304.31 L390.80,303.35 L391.29,302.41 L391.77,301.48 L392.26,300.57 L392.74,299.66 L393.23,298.78 L393.71,297.91 L394.20,297.05 L394.68,296.22 L395.17,295.40 L395.65,294.59 L396.14,293.81 L396.62,293.04 L397.11,292.30 L397.59,291.57 L398.08,290.86 L398.56,290.18 L399.05,289.51 L399.53,288.87 L400.02,288.25 L400.50,287.65 L400.99,287.07 L401.47,286.52 L401.95,285.99 L402.44,285.48 L402.93,285.00 L403.41,284.54 L403.89,284.11 L404.38,283.70 L404.87,283.31 L405.35,282.96 L405.84,282.62 L406.32,282.32 L406.81,282.04 L407.29,281.78 L407.78,281.56 L408.26,281.36 L408.75,281.18 L409.23,281.03 L409.72,280.91 L410.20,280.82 L410.69,280.75 L411.17,280.71 L411.66,280.70 L412.14,280.72 L412.62,280.76 L413.11,280.84 L413.60,280.95 L414.08,281.09 L414.56,281.27 L415.05,281.47 L415.54,281.70 L416.02,281.96 L416.50,282.26 L416.99,282.58 L417.48,282.93 L417.96,283.31 L418.44,283.73 L418.93,284.17 L419.42,284.63 L419.90,285.13 L420.39,285.66 L420.87,286.21 L421.36,286.79 L421.84,287.39 L422.33,288.02 L422.81,288.68 L423.30,289.36 L423.78,290.07 L424.27,290.80 L424.75,291.56 L425.24,292.34 L425.72,293.14 L426.21,293.96 L426.69,294.80 L427.18,295.67 L427.66,296.55 L428.15,297.46 L428.63,298.38 L429.12,299.32 L429.60,300.28 L430.09,301.26 L430.57,302.25 L431.06,303.25 L431.54,304.28 L432.03,305.31 L432.51,306.36 L433.00,307.42 L433.48,308.49 L433.97,309.57 L434.45,310.66 L434.94,311.76 L435.42,312.87 L435.91,313.99 L436.39,315.11 L436.88,316.24 L437.36,317.38 L437.85,318.51 L438.33,319.66 L438.82,320.80 L439.30,321.95 L439.79,323.09 L440.27,324.24 L440.76,325.38 L441.24,326.53 L441.73,327.67 L442.21,328.81 L442.70,329.94 L443.18,331.07 L443.67,332.19 L444.15,333.30 L444.63,334.41 L445.12,335.51 L445.61,336.60 L446.09,337.68 L446.57,338.75 L447.06,339.81 L447.55,340.86 L448.03,341.89 L448.51,342.91 L449.00,343.91 L449.49,344.90 L449.97,345.87 L450.46,346.83 L450.94,347.77 L451.43,348.69 L451.91,349.59 L452.40,350.47 L452.88,351.33 L453.37,352.17 L453.85,352.99 L454.34,353.79 L454.82,354.56 L455.31,355.32 L455.79,356.04 L456.28,356.75 L456.76,357.43 L457.25,358.08 L457.73,358.71 L458.22,359.31 L458.70,359.88 L459.19,360.43 L459.67,360.95 L460.16,361.44 L460.64,361.91 L461.12,362.34 L461.61,362.75 L462.10,363.13 L462.58,363.47 L463.06,363.79 L463.55,364.08 L464.04,364.34 L464.52,364.57 L465.01,364.76 L465.49,364.93 L465.98,365.07 L466.46,365.17 L466.95,365.25 L467.43,365.29 L467.92,365.30 L468.40,365.28 L468.89,365.24 L469.37,365.17 L469.86,365.07 L470.34,364.95 L470.83,364.79 L471.31,364.61 L471.80,364.41 L472.28,364.18 L472.77,363.92 L473.25,363.63 L473.74,363.32 L474.22,362.99 L474.71,362.63 L475.19,362.24 L475.68,361.83 L476.16,361.39 L476.64,360.93 L477.13,360.44 L477.62,359.93 L478.10,359.39 L478.59,358.84 L479.07,358.26 L479.56,357.65 L480.04,357.03 L480.53,356.38 L481.01,355.71 L481.50,355.02 L481.98,354.31 L482.47,353.58 L482.95,352.83 L483.44,352.07 L483.92,351.28 L484.41,350.47 L484.89,349.65 L485.38,348.81 L485.86,347.95 L486.35,347.08 L486.83,346.19 L487.31,345.29 L487.80,344.37 L488.29,343.44 L488.77,342.50 L489.25,341.54 L489.74,340.57 L490.23,339.59 L490.71,338.60 L491.19,337.60 L491.68,336.59 L492.17,335.57 L492.65,334.55 L493.14,333.51 L493.62,332.47 L494.11,331.43 L494.59,330.37 L495.08,329.32 L495.56,328.26 L496.05,327.19 L496.53,326.12 L497.02,325.06 L497.50,323.99 L497.99,322.91 L498.47,321.84 L498.96,320.77 L499.44,319.70 L499.93,318.64 L500.41,317.57 L500.90,316.51 L501.38,315.46 L501.87,314.41 L502.35,313.36 L502.84,312.32 L503.32,311.29 L503.81,310.26 L504.29,309.25 L504.78,308.24 L505.26,307.24 L505.75,306.25 L506.23,305.27 L506.72,304.31 L507.20,303.35 L507.69,302.41 L508.17,301.48 L508.66,300.57 L509.14,299.66 L509.63,298.78 L510.11,297.91 L510.60,297.05 L511.08,296.22 L511.57,295.40 L512.05,294.59 L512.53,293.81 L513.02,293.04 L513.50,292.30 L513.99,291.57 L514.48,290.86 L514.96,290.18 L515.45,289.51 L515.93,288.87 L516.41,288.25 L516.90,287.65 L517.38,287.07 L517.87,286.52 L518.36,285.99 L518.84,285.48 L519.32,285.00 L519.81,284.54 L520.29,284.11 L520.78,283.70 L521.26,283.31 L521.75,282.96 L522.24,282.62 L522.72,282.32 L523.21,282.04 L523.69,281.78 L524.18,281.56 L524.66,281.36 L525.14,281.18 L525.63,281.03 L526.12,280.91 L526.60,280.82 L527.09,280.75 L527.57,280.71 L528.06,280.70 L528.54,280.72 L529.02,280.76 L529.51,280.84 L530.00,280.95 L530.48,281.09 L530.97,281.27 L531.45,281.47 L531.93,281.70 L532.42,281.96 L532.90,282.26 L533.39,282.58 L533.88,282.93 L534.36,283.31 L534.85,283.73 L535.33,284.17 L535.81,284.63 L536.30,285.13 L536.79,285.66 L537.27,286.21 L537.75,286.79 L538.24,287.39 L538.73,288.02 L539.21,288.68 L539.70,289.36 L540.18,290.07 L540.66,290.80 L541.15,291.56 L541.63,292.34 L542.12,293.14 L542.61,293.96 L543.09,294.80 L543.58,295.67 L544.06,296.55 L544.54,297.46 L545.03,298.38 L545.51,299.32 L546.00,300.28 L546.49,301.26 L546.97,302.25 L547.46,303.25 L547.94,304.28 L548.42,305.31 L548.91,306.36 L549.39,307.42 L549.88,308.49 L550.37,309.57 L550.85,310.66 L551.34,311.76 L551.82,312.87 L552.31,313.99 L552.79,315.11 L553.27,316.24 L553.76,317.38 L554.25,318.51 L554.73,319.66 L555.22,320.80 L555.70,321.95 L556.19,323.09 L556.67,324.24 L557.15,325.38 L557.64,326.53 L558.12,327.67 L558.61,328.81 L559.10,329.94 L559.58,331.07 L560.07,332.19 L560.55,333.30 L561.03,334.41 L561.52,335.51 L562.00,336.60 L562.49,337.68 L562.98,338.75 L563.46,339.81 L563.94,340.86 L564.43,341.89 L564.91,342.91 L565.40,343.91 L565.88,344.90 L566.37,345.87 L566.86,346.83 L567.34,347.77 L567.82,348.69 L568.31,349.59 L568.80,350.47 L569.28,351.33 L569.76,352.17 L570.25,352.99 L570.74,353.79 L571.22,354.56 L571.70,355.32 L572.19,356.04 L572.67,356.75 L573.16,357.43 L573.65,358.08 L574.13,358.71 L574.62,359.31 L575.10,359.88 L575.59,360.43 L576.07,360.95 L576.55,361.44 L577.04,361.91 L577.53,362.34 L578.01,362.75 L578.50,363.13 L578.98,363.47 L579.47,363.79 L579.95,364.08 L580.43,364.34 L580.92,364.57 L581.40,364.76 L581.89,364.93 L582.38,365.07 L582.86,365.17 L583.35,365.25 L583.83,365.29 L584.31,365.30 L584.80,365.28 L585.28,365.24 L585.77,365.17 L586.25,365.07 L586.74,364.95 L587.23,364.79 L587.71,364.61 L588.20,364.41 L588.68,364.18 L589.16,363.92 L589.65,363.63 L590.14,363.32 L590.62,362.99 L591.11,362.63 L591.59,362.24 L592.08,361.83 L592.56,361.39 L593.04,360.93 L593.53,360.44 L594.01,359.93 L594.50,359.39 L594.99,358.84 L595.47,358.26 L595.96,357.65 L596.44,357.03 L596.92,356.38 L597.41,355.71 L597.89,355.02 L598.38,354.31 L598.87,353.58 L599.35,352.83 L599.84,352.07 L600.32,351.28 L600.80,350.47 L601.29,349.65 L601.77,348.81 L602.26,347.95 L602.75,347.08 L603.23,346.19 L603.72,345.29 L604.20,344.37 L604.69,343.44 L605.17,342.50 L605.65,341.54 L606.14,340.57 L606.62,339.59 L607.11,338.60 L607.60,337.60 L608.08,336.59 L608.57,335.57 L609.05,334.55 L609.53,333.51 L610.02,332.47 L610.50,331.43 L610.99,330.37 L611.48,329.32 L611.96,328.26 L612.45,327.19 L612.93,326.12 L613.41,325.06 L613.90,323.99 L614.38,322.91 L614.87,321.84 L615.35,320.77 L615.84,319.70 L616.32,318.64 L616.81,317.57 L617.30,316.51 L617.78,315.46 L618.26,314.41 L618.75,313.36 L619.24,312.32 L619.72,311.29 L620.20,310.26 L620.69,309.25 L621.18,308.24 L621.66,307.24 L622.14,306.25 L622.63,305.27 L623.12,304.31 L623.60,303.35 L624.08,302.41 L624.57,301.48 L625.05,300.57 L625.54,299.66 L626.02,298.78 L626.51,297.91 L627.00,297.05 L627.48,296.22 L627.96,295.40 L628.45,294.59 L628.93,293.81 L629.42,293.04 L629.90,292.30 L630.39,291.57 L630.88,290.86 L631.36,290.18 L631.85,289.51 L632.33,288.87 L632.81,288.25 L633.30,287.65 L633.78,287.07 L634.27,286.52 L634.75,285.99 L635.24,285.48 L635.73,285.00 L636.21,284.54 L636.69,284.11 L637.18,283.70 L637.66,283.31 L638.15,282.96 L638.63,282.62 L639.12,282.32 L639.61,282.04 L640.09,281.78 L640.57,281.56 L641.06,281.36 L641.54,281.18 L642.03,281.03 L642.51,280.91 L643.00,280.82 L643.49,280.75 L643.97,280.71 L644.45,280.70 L644.94,280.72 L645.42,280.76 L645.91,280.84 L646.39,280.95 L646.88,281.09 L647.37,281.27 L647.85,281.47 L648.34,281.70 L648.82,281.96 L649.30,282.26 L649.79,282.58 L650.27,282.93 L650.76,283.31 L651.25,283.73 L651.73,284.17 L652.22,284.63 L652.70,285.13 L653.18,285.66 L653.67,286.21 L654.15,286.79 L654.64,287.39 L655.12,288.02 L655.61,288.68 L656.10,289.36 L656.58,290.07 L657.06,290.80 L657.55,291.56 L658.03,292.34 L658.52,293.14 L659.00,293.96 L659.49,294.80 L659.98,295.67 L660.46,296.55 L660.95,297.46 L661.43,298.38 L661.91,299.32 L662.40,300.28 L662.88,301.26 L663.37,302.25 L663.86,303.25 L664.34,304.28 L664.83,305.31 L665.31,306.36 L665.79,307.42 L666.28,308.49 L666.76,309.57 L667.25,310.66 L667.73,311.76 L668.22,312.87 L668.71,313.99 L669.19,315.11 L669.67,316.24 L670.16,317.38 L670.64,318.51 L671.13,319.66 L671.61,320.80 L672.10,321.95 L672.59,323.09 L673.07,324.24 L673.55,325.38 L674.04,326.53 L674.52,327.67 L675.01,328.81 L675.50,329.94 L675.98,331.07 L676.47,332.19 L676.95,333.30 L677.44,334.41 L677.92,335.51 L678.40,336.60 L678.89,337.68 L679.38,338.75 L679.86,339.81 L680.34,340.86 L680.83,341.89 L681.32,342.91 L681.80,343.91" fill="none" stroke="#5BBEF5" stroke-width="1.9" stroke-linejoin="round" stroke-linecap="round" />
</g>
<clipPath id="cb2"><rect x="98.9" y="376.2" width="583.7" height="108.40000000000003"/></clipPath>
<g clip-path="url(#cb2)">
<path d="M99.90,399.90 L100.40,400.51 L100.90,400.68 L101.40,401.23 L101.90,401.58 L102.40,401.41 L102.90,401.70 L103.40,402.77 L103.90,402.59 L104.40,402.91 L104.90,403.94 L105.40,403.81 L105.90,404.49 L106.40,404.51 L106.90,404.94 L107.40,404.78 L107.90,405.49 L108.40,405.97 L108.90,405.87 L109.40,406.18 L109.90,406.23 L110.40,405.80 L110.90,406.54 L111.40,406.55 L111.90,406.64 L112.40,406.75 L112.90,407.85 L113.40,407.95 L113.90,409.07 L114.40,410.11 L114.90,410.98 L115.40,412.40 L115.90,413.27 L116.40,415.47 L116.90,417.65 L117.40,422.07 L117.90,427.35 L118.40,429.70 L118.90,432.77 L119.40,435.85 L119.90,439.24 L120.40,440.39 L120.90,442.19 L121.40,443.52 L121.90,445.29 L122.40,446.58 L122.90,447.95 L123.40,449.56 L123.90,450.87 L124.40,452.14 L124.90,452.93 L125.40,454.13 L125.90,455.05 L126.40,456.16 L126.90,456.82 L127.40,457.22 L127.90,458.69 L128.40,459.64 L128.90,460.43 L129.40,460.98 L129.90,461.92 L130.40,462.12 L130.90,463.33 L131.40,463.75 L131.90,464.14 L132.40,464.59 L132.90,465.91 L133.40,466.48 L133.90,466.12 L134.40,467.22 L134.90,467.32 L135.40,467.53 L135.90,468.11 L136.40,468.69 L136.90,468.94 L137.40,468.34 L137.90,469.00 L138.40,468.64 L138.90,469.40 L139.40,469.20 L139.90,469.84 L140.40,469.88 L140.90,469.40 L141.40,469.79 L141.90,469.12 L142.40,468.86 L142.90,469.24 L143.40,468.50 L143.90,468.41 L144.40,468.37 L144.90,468.32 L145.40,467.67 L145.90,467.34 L146.40,467.62 L146.90,466.60 L147.40,466.66 L147.90,466.09 L148.40,465.10 L148.90,464.62 L149.40,463.95 L149.90,463.33 L150.40,462.56 L150.90,461.80 L151.40,460.88 L151.90,460.13 L152.40,458.70 L152.90,457.59 L153.40,456.81 L153.90,455.00 L154.40,453.45 L154.90,452.46 L155.40,450.44 L155.90,448.86 L156.40,446.63 L156.90,445.21 L157.40,443.57 L157.90,441.28 L158.40,440.03 L158.90,438.25 L159.40,435.90 L159.90,434.58 L160.40,432.60 L160.90,430.96 L161.40,428.83 L161.90,427.32 L162.40,425.49 L162.90,422.98 L163.40,421.15 L163.90,419.84 L164.40,418.23 L164.90,415.72 L165.40,414.06 L165.90,412.35 L166.40,410.27 L166.90,408.48 L167.40,406.60 L167.90,404.82 L168.40,403.10 L168.90,400.86 L169.40,398.95 L169.90,397.33 L170.40,394.68 L170.90,393.23 L171.40,391.43 L171.90,389.10 L172.40,387.33 L172.90,386.57 L173.40,384.76 L173.90,383.91 L174.40,383.83 L174.90,384.53 L175.40,384.46 L175.90,384.85 L176.40,384.88 L176.90,385.35 L177.40,385.01 L177.90,385.41 L178.40,384.83 L178.90,385.05 L179.40,385.40 L179.90,385.68 L180.40,385.36 L180.90,385.22 L181.40,385.20 L181.90,385.63 L182.40,385.39 L182.90,386.02 L183.40,386.12 L183.90,385.60 L184.40,385.76 L184.90,386.31 L185.40,386.23 L185.90,386.45 L186.40,386.10 L186.90,385.98 L187.40,386.20 L187.90,386.72 L188.40,386.34 L188.90,386.53 L189.40,386.71 L189.90,386.84 L190.40,386.95 L190.90,387.55 L191.40,387.04 L191.90,387.09 L192.40,388.12 L192.90,388.24 L193.40,388.52 L193.90,388.20 L194.40,388.85 L194.90,389.01 L195.40,388.56 L195.90,389.21 L196.40,389.48 L196.90,389.52 L197.40,389.58 L197.90,389.56 L198.40,389.80 L198.90,389.92 L199.40,390.10 L199.90,390.89 L200.40,390.94 L200.90,391.74 L201.40,391.37 L201.90,392.47 L202.40,392.60 L202.90,393.14 L203.40,393.44 L203.90,393.77 L204.40,393.80 L204.90,393.62 L205.40,394.60 L205.90,394.41 L206.40,394.85 L206.90,395.46 L207.40,395.59 L207.90,395.76 L208.40,396.49 L208.90,396.46 L209.40,396.48 L209.90,396.66 L210.40,397.47 L210.90,397.37 L211.40,397.87 L211.90,397.71 L212.40,397.80 L212.90,398.33 L213.40,398.81 L213.90,398.45 L214.40,399.24 L214.90,399.58 L215.40,399.81 L215.90,400.16 L216.40,399.76 L216.90,400.65 L217.40,401.19 L217.90,400.79 L218.40,401.33 L218.90,401.66 L219.40,402.22 L219.90,402.46 L220.40,402.85 L220.90,403.47 L221.40,403.12 L221.90,403.51 L222.40,403.92 L222.90,404.26 L223.40,404.48 L223.90,405.57 L224.40,405.74 L224.90,405.32 L225.40,405.87 L225.90,405.82 L226.40,405.93 L226.90,406.08 L227.40,406.46 L227.90,406.62 L228.40,406.76 L228.90,406.96 L229.40,407.44 L229.90,407.82 L230.40,409.10 L230.90,410.14 L231.40,410.93 L231.90,411.89 L232.40,413.44 L232.90,415.45 L233.40,418.49 L233.90,423.11 L234.40,427.51 L234.90,430.94 L235.40,433.81 L235.90,436.64 L236.40,439.04 L236.90,440.77 L237.40,442.58 L237.90,443.95 L238.40,445.73 L238.90,446.92 L239.40,448.13 L239.90,449.79 L240.40,451.17 L240.90,451.59 L241.40,452.89 L241.90,453.88 L242.40,455.27 L242.90,456.30 L243.40,456.73 L243.90,458.05 L244.40,458.80 L244.90,459.18 L245.40,460.21 L245.90,460.75 L246.40,462.14 L246.90,462.66 L247.40,463.51 L247.90,464.07 L248.40,464.61 L248.90,465.32 L249.40,465.74 L249.90,465.78 L250.40,466.66 L250.90,466.59 L251.40,467.17 L251.90,468.19 L252.40,467.92 L252.90,468.11 L253.40,468.27 L253.90,469.12 L254.40,468.64 L254.90,468.65 L255.40,469.54 L255.90,469.04 L256.40,469.80 L256.90,469.59 L257.40,469.69 L257.90,469.74 L258.40,469.35 L258.90,469.50 L259.40,468.69 L259.90,469.11 L260.40,468.65 L260.90,468.60 L261.40,467.81 L261.90,468.16 L262.40,468.09 L262.90,466.79 L263.40,466.51 L263.90,466.20 L264.40,465.92 L264.90,464.88 L265.40,464.22 L265.90,463.56 L266.40,463.16 L266.90,462.56 L267.40,461.50 L267.90,460.44 L268.40,459.43 L268.90,458.35 L269.40,457.37 L269.90,456.03 L270.40,454.92 L270.90,453.74 L271.40,451.63 L271.90,450.33 L272.40,448.19 L272.90,446.89 L273.40,445.16 L273.90,443.30 L274.40,441.37 L274.90,439.56 L275.40,437.90 L275.90,436.29 L276.40,433.78 L276.90,431.90 L277.40,430.66 L277.90,428.97 L278.40,426.78 L278.90,424.86 L279.40,423.24 L279.90,420.89 L280.40,419.10 L280.90,417.17 L281.40,415.65 L281.90,413.57 L282.40,411.66 L282.90,410.24 L283.40,408.64 L283.90,406.22 L284.40,404.75 L284.90,402.54 L285.40,400.96 L285.90,398.74 L286.40,396.48 L286.90,394.47 L287.40,392.34 L287.90,390.81 L288.40,388.77 L288.90,387.03 L289.40,385.91 L289.90,384.68 L290.40,384.27 L290.90,383.66 L291.40,384.88 L291.90,384.89 L292.40,385.10 L292.90,385.01 L293.40,385.35 L293.90,385.36 L294.40,385.14 L294.90,385.12 L295.40,385.41 L295.90,385.60 L296.40,385.26 L296.90,385.62 L297.40,385.90 L297.90,385.52 L298.40,385.37 L298.90,385.45 L299.40,385.95 L299.90,385.99 L300.40,386.31 L300.90,386.29 L301.40,385.81 L301.90,385.83 L302.40,385.97 L302.90,385.98 L303.40,386.51 L303.90,386.72 L304.40,386.83 L304.90,386.35 L305.40,387.02 L305.90,386.64 L306.40,386.86 L306.90,387.26 L307.40,386.84 L307.90,387.02 L308.40,387.87 L308.90,387.57 L309.40,387.81 L309.90,388.19 L310.40,388.46 L310.90,388.04 L311.40,388.51 L311.90,388.79 L312.40,389.01 L312.90,388.95 L313.40,389.48 L313.90,390.01 L314.40,389.69 L314.90,390.02 L315.40,389.89 L315.90,390.35 L316.40,391.03 L316.90,390.85 L317.40,391.87 L317.90,392.21 L318.40,391.81 L318.90,392.89 L319.40,392.71 L319.90,393.39 L320.40,393.70 L320.90,393.61 L321.40,394.28 L321.90,394.59 L322.40,395.05 L322.90,394.89 L323.40,395.59 L323.90,396.04 L324.40,396.04 L324.90,396.18 L325.40,396.06 L325.90,396.67 L326.40,396.80 L326.90,397.39 L327.40,397.60 L327.90,397.72 L328.40,397.60 L328.90,398.25 L329.40,398.46 L329.90,398.28 L330.40,399.14 L330.90,399.16 L331.40,398.93 L331.90,399.99 L332.40,399.61 L332.90,400.12 L333.40,400.80 L333.90,401.02 L334.40,401.32 L334.90,401.73 L335.40,401.90 L335.90,402.10 L336.40,402.31 L336.90,402.56 L337.40,403.48 L337.90,403.86 L338.40,404.02 L338.90,404.54 L339.40,404.53 L339.90,404.72 L340.40,405.10 L340.90,405.81 L341.40,405.33 L341.90,405.90 L342.40,405.78 L342.90,406.37 L343.40,406.11 L343.90,406.20 L344.40,406.52 L344.90,407.00 L345.40,407.55 L345.90,407.53 L346.40,408.65 L346.90,408.88 L347.40,409.91 L347.90,410.92 L348.40,412.16 L348.90,414.35 L349.40,416.14 L349.90,418.82 L350.40,423.76 L350.90,428.15 L351.40,431.50 L351.90,434.58 L352.40,437.52 L352.90,439.56 L353.40,440.78 L353.90,442.63 L354.40,444.07 L354.90,445.86 L355.40,447.30 L355.90,448.37 L356.40,449.82 L356.90,451.44 L357.40,451.75 L357.90,453.43 L358.40,454.49 L358.90,455.53 L359.40,456.00 L359.90,457.06 L360.40,457.93 L360.90,458.83 L361.40,459.99 L361.90,460.58 L362.40,461.08 L362.90,462.31 L363.40,462.63 L363.90,463.38 L364.40,464.14 L364.90,464.14 L365.40,465.48 L365.90,465.92 L366.40,466.22 L366.90,466.70 L367.40,467.09 L367.90,467.30 L368.40,468.06 L368.90,467.94 L369.40,468.51 L369.90,468.79 L370.40,468.76 L370.90,469.02 L371.40,469.52 L371.90,469.61 L372.40,469.08 L372.90,469.74 L373.40,469.54 L373.90,468.97 L374.40,469.20 L374.90,469.03 L375.40,468.84 L375.90,469.09 L376.40,469.21 L376.90,468.43 L377.40,468.69 L377.90,468.30 L378.40,467.56 L378.90,467.92 L379.40,467.17 L379.90,466.94 L380.40,466.24 L380.90,465.74 L381.40,464.87 L381.90,464.64 L382.40,464.02 L382.90,463.23 L383.40,462.13 L383.90,461.62 L384.40,460.34 L384.90,458.96 L385.40,457.87 L385.90,456.86 L386.40,455.93 L386.90,454.29 L387.40,452.99 L387.90,451.57 L388.40,449.82 L388.90,448.07 L389.40,446.49 L389.90,444.40 L390.40,442.75 L390.90,441.23 L391.40,439.13 L391.90,437.11 L392.40,435.93 L392.90,433.93 L393.40,431.78 L393.90,429.95 L394.40,428.26 L394.90,426.49 L395.40,424.28 L395.90,422.22 L396.40,420.54 L396.90,419.19 L397.40,416.75 L397.90,415.16 L398.40,413.09 L398.90,411.27 L399.40,409.40 L399.90,407.78 L400.40,405.73 L400.90,403.77 L401.40,401.87 L401.90,399.95 L402.40,398.26 L402.90,395.89 L403.40,393.90 L403.90,392.34 L404.40,390.35 L404.90,388.67 L405.40,386.66 L405.90,385.69 L406.40,384.58 L406.90,383.44 L407.40,384.49 L407.90,384.28 L408.40,384.63 L408.90,385.00 L409.40,384.74 L409.90,385.17 L410.40,384.94 L410.90,384.76 L411.40,384.75 L411.90,385.43 L412.40,385.09 L412.90,385.62 L413.40,385.40 L413.90,385.89 L414.40,385.38 L414.90,385.41 L415.40,385.49 L415.90,386.05 L416.40,385.96 L416.90,385.77 L417.40,385.62 L417.90,386.22 L418.40,386.55 L418.90,386.28 L419.40,385.82 L419.90,385.92 L420.40,386.05 L420.90,386.19 L421.40,386.18 L421.90,386.31 L422.40,386.97 L422.90,387.32 L423.40,386.81 L423.90,387.67 L424.40,387.41 L424.90,387.88 L425.40,388.17 L425.90,388.37 L426.40,387.74 L426.90,388.16 L427.40,388.61 L427.90,389.10 L428.40,388.51 L428.90,388.88 L429.40,389.57 L429.90,389.10 L430.40,389.54 L430.90,389.68 L431.40,390.19 L431.90,390.68 L432.40,390.32 L432.90,391.16 L433.40,391.48 L433.90,391.89 L434.40,391.96 L434.90,392.62 L435.40,392.44 L435.90,392.81 L436.40,392.97 L436.90,393.79 L437.40,393.85 L437.90,393.98 L438.40,394.22 L438.90,395.04 L439.40,395.25 L439.90,395.60 L440.40,395.57 L440.90,395.93 L441.40,395.89 L441.90,396.65 L442.40,396.29 L442.90,396.96 L443.40,397.48 L443.90,397.64 L444.40,397.34 L444.90,397.70 L445.40,398.47 L445.90,398.51 L446.40,398.95 L446.90,399.17 L447.40,399.02 L447.90,399.69 L448.40,399.88 L448.90,399.85 L449.40,400.22 L449.90,400.28 L450.40,400.91 L450.90,401.74 L451.40,401.31 L451.90,402.06 L452.40,401.98 L452.90,402.29 L453.40,403.15 L453.90,403.13 L454.40,403.30 L454.90,403.74 L455.40,404.52 L455.90,404.79 L456.40,404.54 L456.90,405.01 L457.40,405.95 L457.90,405.55 L458.40,405.97 L458.90,405.96 L459.40,406.40 L459.90,406.36 L460.40,406.64 L460.90,406.71 L461.40,406.75 L461.90,407.09 L462.40,407.35 L462.90,408.81 L463.40,409.06 L463.90,409.87 L464.40,411.95 L464.90,412.48 L465.40,414.82 L465.90,415.93 L466.40,419.77 L466.90,424.97 L467.40,429.14 L467.90,431.99 L468.40,435.03 L468.90,438.14 L469.40,440.13 L469.90,441.29 L470.40,443.14 L470.90,444.63 L471.40,445.77 L471.90,447.82 L472.40,449.00 L472.90,450.60 L473.40,451.12 L473.90,452.41 L474.40,453.32 L474.90,454.54 L475.40,454.94 L475.90,456.16 L476.40,457.17 L476.90,457.64 L477.40,458.93 L477.90,459.94 L478.40,460.51 L478.90,461.56 L479.40,462.22 L479.90,462.51 L480.40,463.29 L480.90,464.52 L481.40,464.57 L481.90,465.31 L482.40,465.49 L482.90,466.06 L483.40,466.46 L483.90,467.60 L484.40,467.87 L484.90,468.46 L485.40,468.83 L485.90,468.64 L486.40,469.08 L486.90,468.87 L487.40,468.92 L487.90,469.54 L488.40,469.65 L488.90,469.84 L489.40,469.45 L489.90,469.66 L490.40,469.28 L490.90,469.76 L491.40,469.64 L491.90,469.02 L492.40,469.40 L492.90,468.49 L493.40,468.18 L493.90,468.51 L494.40,467.89 L494.90,467.86 L495.40,467.62 L495.90,466.56 L496.40,466.68 L496.90,465.74 L497.40,465.36 L497.90,464.76 L498.40,464.44 L498.90,463.71 L499.40,462.57 L499.90,461.68 L500.40,461.00 L500.90,460.07 L501.40,458.73 L501.90,457.76 L502.40,457.27 L502.90,456.06 L503.40,454.70 L503.90,453.10 L504.40,451.41 L504.90,449.35 L505.40,447.48 L505.90,445.83 L506.40,444.18 L506.90,442.45 L507.40,440.68 L507.90,438.73 L508.40,437.35 L508.90,435.01 L509.40,433.33 L509.90,431.88 L510.40,429.98 L510.90,427.68 L511.40,425.80 L511.90,424.44 L512.40,421.85 L512.90,420.09 L513.40,418.59 L513.90,416.73 L514.40,414.53 L514.90,412.60 L515.40,410.90 L515.90,409.58 L516.40,407.47 L516.90,406.10 L517.40,404.06 L517.90,402.26 L518.40,399.43 L518.90,397.59 L519.40,395.46 L519.90,393.88 L520.40,391.85 L520.90,389.64 L521.40,388.14 L521.90,386.44 L522.40,385.35 L522.90,384.29 L523.40,383.97 L523.90,384.09 L524.40,384.41 L524.90,384.59 L525.40,384.96 L525.90,385.16 L526.40,385.22 L526.90,385.45 L527.40,385.38 L527.90,384.94 L528.40,384.91 L528.90,385.54 L529.40,385.63 L529.90,385.45 L530.40,385.81 L530.90,385.62 L531.40,385.45 L531.90,385.42 L532.40,385.35 L532.90,385.99 L533.40,386.29 L533.90,386.37 L534.40,386.04 L534.90,386.29 L535.40,386.60 L535.90,386.57 L536.40,386.45 L536.90,386.35 L537.40,386.52 L537.90,386.32 L538.40,386.45 L538.90,387.03 L539.40,387.42 L539.90,387.14 L540.40,387.20 L540.90,387.33 L541.40,387.60 L541.90,388.10 L542.40,387.97 L542.90,388.60 L543.40,388.06 L543.90,388.39 L544.40,388.76 L544.90,388.84 L545.40,389.42 L545.90,389.59 L546.40,389.87 L546.90,389.78 L547.40,389.45 L547.90,390.13 L548.40,390.40 L548.90,390.67 L549.40,390.81 L549.90,391.52 L550.40,392.02 L550.90,391.62 L551.40,392.45 L551.90,392.51 L552.40,392.96 L552.90,393.63 L553.40,394.02 L553.90,394.06 L554.40,393.98 L554.90,394.96 L555.40,394.62 L555.90,395.10 L556.40,395.76 L556.90,395.56 L557.40,395.78 L557.90,396.66 L558.40,396.91 L558.90,396.61 L559.40,396.94 L559.90,397.10 L560.40,397.19 L560.90,397.53 L561.40,398.41 L561.90,397.83 L562.40,398.19 L562.90,398.39 L563.40,398.50 L563.90,399.13 L564.40,399.62 L564.90,400.04 L565.40,400.18 L565.90,400.69 L566.40,400.29 L566.90,400.87 L567.40,401.82 L567.90,401.35 L568.40,401.86 L568.90,402.38 L569.40,402.53 L569.90,403.12 L570.40,403.02 L570.90,403.53 L571.40,404.53 L571.90,404.14 L572.40,405.13 L572.90,404.75 L573.40,405.75 L573.90,405.74 L574.40,405.96 L574.90,405.62 L575.40,405.65 L575.90,406.40 L576.40,405.99 L576.90,406.12 L577.40,407.04 L577.90,407.44 L578.40,407.04 L578.90,408.21 L579.40,408.72 L579.90,409.48 L580.40,410.19 L580.90,411.67 L581.40,413.44 L581.90,414.64 L582.40,416.67 L582.90,420.18 L583.40,426.06 L583.90,429.32 L584.40,432.87 L584.90,435.12 L585.40,438.22 L585.90,440.52 L586.40,442.20 L586.90,443.81 L587.40,444.77 L587.90,446.27 L588.40,448.21 L588.90,449.19 L589.40,450.78 L589.90,451.42 L590.40,452.14 L590.90,453.41 L591.40,454.76 L591.90,455.77 L592.40,456.56 L592.90,457.32 L593.40,458.23 L593.90,459.00 L594.40,459.93 L594.90,461.05 L595.40,461.33 L595.90,462.33 L596.40,463.29 L596.90,463.86 L597.40,463.91 L597.90,465.27 L598.40,465.81 L598.90,465.65 L599.40,466.19 L599.90,466.59 L600.40,466.90 L600.90,468.19 L601.40,468.13 L601.90,468.76 L602.40,468.22 L602.90,468.28 L603.40,469.20 L603.90,469.28 L604.40,469.61 L604.90,469.49 L605.40,469.49 L605.90,469.70 L606.40,469.04 L606.90,469.39 L607.40,469.25 L607.90,468.93 L608.40,469.29 L608.90,468.81 L609.40,468.74 L609.90,468.38 L610.40,468.10 L610.90,467.90 L611.40,467.88 L611.90,467.82 L612.40,467.26 L612.90,466.68 L613.40,466.14 L613.90,465.13 L614.40,465.23 L614.90,463.87 L615.40,463.01 L615.90,462.62 L616.40,462.10 L616.90,460.83 L617.40,460.07 L617.90,458.70 L618.40,458.28 L618.90,456.78 L619.40,455.54 L619.90,453.98 L620.40,452.69 L620.90,451.18 L621.40,449.17 L621.90,447.38 L622.40,445.75 L622.90,443.47 L623.40,442.00 L623.90,440.60 L624.40,438.75 L624.90,436.27 L625.40,435.15 L625.90,432.90 L626.40,431.60 L626.90,429.21 L627.40,427.24 L627.90,425.70 L628.40,424.13 L628.90,421.86 L629.40,420.38 L629.90,418.38 L630.40,416.20 L630.90,414.29 L631.40,412.64 L631.90,410.71 L632.40,408.85 L632.90,407.27 L633.40,405.64 L633.90,403.49 L634.40,401.11 L634.90,399.20 L635.40,397.36 L635.90,395.60 L636.40,393.23 L636.90,391.23 L637.40,389.50 L637.90,387.65 L638.40,386.13 L638.90,385.29 L639.40,384.73 L639.90,383.82 L640.40,384.47 L640.90,385.02 L641.40,385.31 L641.90,385.40 L642.40,384.99 L642.90,385.23 L643.40,384.74 L643.90,385.46 L644.40,385.07 L644.90,385.23 L645.40,385.67 L645.90,385.19 L646.40,385.18 L646.90,385.81 L647.40,385.68 L647.90,385.29 L648.40,385.30 L648.90,385.67 L649.40,385.43 L649.90,386.24 L650.40,385.73 L650.90,385.88 L651.40,386.06 L651.90,386.24 L652.40,386.24 L652.90,386.49 L653.40,386.59 L653.90,386.47 L654.40,386.28 L654.90,387.20 L655.40,387.06 L655.90,386.63 L656.40,387.08 L656.90,387.55 L657.40,387.94 L657.90,387.29 L658.40,387.42 L658.90,388.03 L659.40,388.16 L659.90,388.76" fill="none" stroke="#E94646" stroke-width="1.7" stroke-linejoin="round" stroke-linecap="round" />
</g>
<rect x="595.0" y="268.2" width="87.60" height="28.90" fill="#fff" stroke="#161616" stroke-width="1.6"/>
<text x="602.30" y="287.60" font-size="19" text-anchor="start" font-weight="normal" font-style="normal" fill="#000" textLength="72.3" lengthAdjust="spacingAndGlyphs">DI Water</text>
<rect x="569.5" y="376.2" width="113.10" height="28.30" fill="#fff" stroke="#161616" stroke-width="1.6"/>
<text x="578.60" y="395.30" font-size="18.3" text-anchor="start" font-weight="normal" font-style="normal" fill="#000" textLength="95.4" lengthAdjust="spacingAndGlyphs">PEDOT:PSS</text>
<rect x="98.9" y="268.2" width="583.70" height="216.40" fill="none" stroke="#161616" stroke-width="1.8"/>
<line x1="98.90" y1="376.20" x2="682.60" y2="376.20" stroke="#161616" stroke-width="2.2" />
<text x="99.80" y="503.90" font-size="19.4" text-anchor="middle" font-weight="normal" font-style="normal" fill="#000" >0</text>
<line x1="158.00" y1="484.60" x2="158.00" y2="481.00" stroke="#161616" stroke-width="1.5" />
<line x1="216.20" y1="484.60" x2="216.20" y2="477.80" stroke="#161616" stroke-width="1.5" />
<text x="216.20" y="503.90" font-size="19.4" text-anchor="middle" font-weight="normal" font-style="normal" fill="#000" >1</text>
<line x1="274.40" y1="484.60" x2="274.40" y2="481.00" stroke="#161616" stroke-width="1.5" />
<line x1="332.60" y1="484.60" x2="332.60" y2="477.80" stroke="#161616" stroke-width="1.5" />
<text x="332.60" y="503.90" font-size="19.4" text-anchor="middle" font-weight="normal" font-style="normal" fill="#000" >2</text>
<line x1="390.80" y1="484.60" x2="390.80" y2="481.00" stroke="#161616" stroke-width="1.5" />
<line x1="449.00" y1="484.60" x2="449.00" y2="477.80" stroke="#161616" stroke-width="1.5" />
<text x="449.00" y="503.90" font-size="19.4" text-anchor="middle" font-weight="normal" font-style="normal" fill="#000" >3</text>
<line x1="507.20" y1="484.60" x2="507.20" y2="481.00" stroke="#161616" stroke-width="1.5" />
<line x1="565.40" y1="484.60" x2="565.40" y2="477.80" stroke="#161616" stroke-width="1.5" />
<text x="565.40" y="503.90" font-size="19.4" text-anchor="middle" font-weight="normal" font-style="normal" fill="#000" >4</text>
<line x1="623.60" y1="484.60" x2="623.60" y2="481.00" stroke="#161616" stroke-width="1.5" />
<text x="681.80" y="503.90" font-size="19.4" text-anchor="middle" font-weight="normal" font-style="normal" fill="#000" >5</text>
<line x1="98.90" y1="357.66" x2="105.70" y2="357.66" stroke="#161616" stroke-width="1.5" />
<text x="94.50" y="363.66" font-size="19.4" text-anchor="end" font-weight="normal" font-style="normal" fill="#000" >−200</text>
<line x1="98.90" y1="339.93" x2="102.50" y2="339.93" stroke="#161616" stroke-width="1.5" />
<line x1="98.90" y1="322.20" x2="105.70" y2="322.20" stroke="#161616" stroke-width="1.5" />
<text x="94.50" y="328.20" font-size="19.4" text-anchor="end" font-weight="normal" font-style="normal" fill="#000" >0</text>
<line x1="98.90" y1="304.47" x2="102.50" y2="304.47" stroke="#161616" stroke-width="1.5" />
<line x1="98.90" y1="286.74" x2="105.70" y2="286.74" stroke="#161616" stroke-width="1.5" />
<text x="94.50" y="292.74" font-size="19.4" text-anchor="end" font-weight="normal" font-style="normal" fill="#000" >200</text>
<line x1="98.90" y1="483.10" x2="105.70" y2="483.10" stroke="#161616" stroke-width="1.5" />
<text x="94.50" y="487.90" font-size="19.4" text-anchor="end" font-weight="normal" font-style="normal" fill="#000" textLength="57" lengthAdjust="spacingAndGlyphs">−1,000</text>
<line x1="98.90" y1="468.42" x2="102.50" y2="468.42" stroke="#161616" stroke-width="1.5" />
<line x1="98.90" y1="453.75" x2="105.70" y2="453.75" stroke="#161616" stroke-width="1.5" />
<text x="94.50" y="459.75" font-size="19.4" text-anchor="end" font-weight="normal" font-style="normal" fill="#000" >−500</text>
<line x1="98.90" y1="439.07" x2="102.50" y2="439.07" stroke="#161616" stroke-width="1.5" />
<line x1="98.90" y1="424.40" x2="105.70" y2="424.40" stroke="#161616" stroke-width="1.5" />
<text x="94.50" y="430.40" font-size="19.4" text-anchor="end" font-weight="normal" font-style="normal" fill="#000" >0</text>
<line x1="98.90" y1="409.72" x2="102.50" y2="409.72" stroke="#161616" stroke-width="1.5" />
<line x1="98.90" y1="395.05" x2="105.70" y2="395.05" stroke="#161616" stroke-width="1.5" />
<text x="94.50" y="401.05" font-size="19.4" text-anchor="end" font-weight="normal" font-style="normal" fill="#000" >500</text>
<text x="114.50" y="286.60" font-size="22.8" text-anchor="start" font-weight="normal" font-style="normal" fill="#000" >(b)</text>
<text x="390.50" y="532.40" font-size="21.2" text-anchor="middle" font-weight="bold" font-style="normal" fill="#000" >Time (s)</text>
<text transform="translate(28.9,378.4) rotate(-90)" x="0" y="0" font-size="30.8" text-anchor="middle" font-weight="bold" fill="#000">Voltage (mV)</text>
</svg>
</body></html>
